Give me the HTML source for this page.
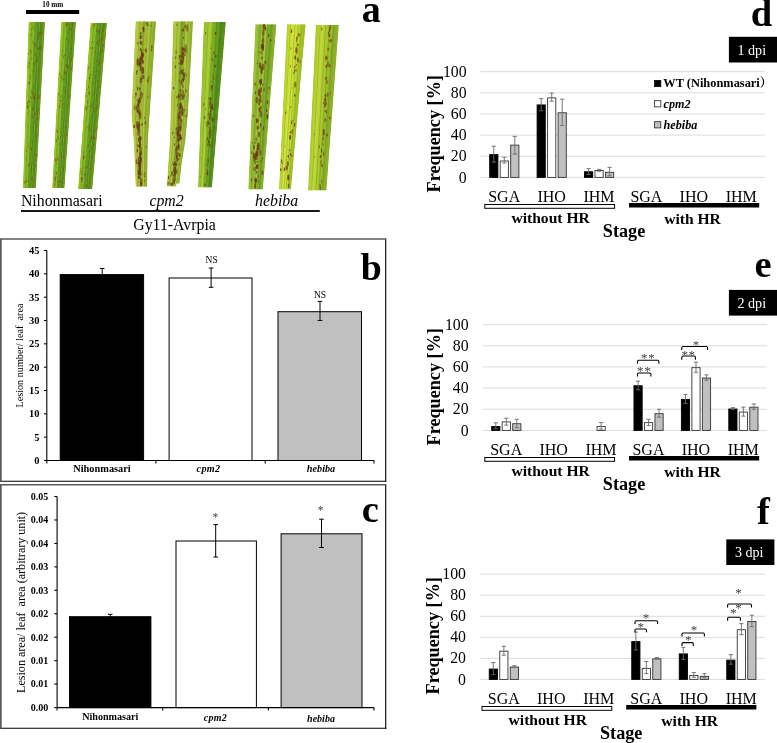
<!DOCTYPE html>
<html lang="en"><head><meta charset="utf-8"><title>Figure</title>
<style>html,body{margin:0;padding:0;background:#fff}svg{display:block}text{font-family:'Liberation Serif', 'Noto Serif CJK SC', serif}</style></head><body>
<svg width="777" height="743" viewBox="0 0 777 743">
<rect x="0" y="0" width="777" height="743" fill="#fff"/>
<rect x="26" y="10" width="53.2" height="4" fill="#000"/>
<text x="52.8" y="7" font-size="7.2" font-weight="bold" text-anchor="middle">10 mm</text>
<defs>
<clipPath id="lc0"><polygon points="28.6,22 22.8,188 35.9,188 45,22"/></clipPath>
<clipPath id="lc1"><polygon points="61.2,22 52.1,188 64.5,188 76,22"/></clipPath>
<clipPath id="lc2"><polygon points="90.6,23 78,189 92.3,189 107,23"/></clipPath>
<clipPath id="lc3"><polygon points="135.6,21.3 132.7,85 131.4,113 133.8,142 135.6,186.8 147.2,186.8 147.8,142 149.7,113 151.7,85 156,21.3"/></clipPath>
<clipPath id="lc4"><polygon points="173.3,21.3 170.6,113 169.8,142 168.2,164 166.8,186.6 176.2,186.6 176.2,183.5 179.5,183.5 181.6,164 185.2,142 188,113 193,21.3"/></clipPath>
<clipPath id="lc5"><polygon points="203.8,22 198,187.5 212,187.5 225.8,22"/></clipPath>
<clipPath id="lc6"><polygon points="255.4,24.2 248.2,189.5 262.9,189.5 270.2,100 276.4,24.2"/></clipPath>
<clipPath id="lc7"><polygon points="287,24.2 278.9,189.5 291,189.5 305.6,24.2"/></clipPath>
<clipPath id="lc8"><polygon points="315.8,25 308,190.5 326.4,190.5 338.8,25"/></clipPath>
</defs>
<g clip-path="url(#lc0)">
<polygon points="28.44,22 27.47,49.67 26.51,77.33 25.55,105 24.59,132.67 23.63,160.33 22.67,188 24.52,188 25.56,160.33 26.6,132.67 27.63,105 28.67,77.33 29.71,49.67 30.75,22" fill="#98c422"/>
<polygon points="30.26,22 29.24,49.67 28.21,77.33 27.19,105 26.17,132.67 25.15,160.33 24.12,188 25.97,188 27.07,160.33 28.17,132.67 29.27,105 30.37,77.33 31.47,49.67 32.57,22" fill="#8cbc20"/>
<polygon points="32.08,22 31,49.67 29.91,77.33 28.83,105 27.75,132.67 26.66,160.33 25.58,188 27.43,188 28.59,160.33 29.75,132.67 30.91,105 32.07,77.33 33.23,49.67 34.39,22" fill="#7eb220"/>
<polygon points="33.9,22 32.76,49.67 31.61,77.33 30.47,105 29.32,132.67 28.18,160.33 27.04,188 28.88,188 30.11,160.33 31.33,132.67 32.55,105 33.77,77.33 34.99,49.67 36.22,22" fill="#6fa820"/>
<polygon points="35.72,22 34.52,49.67 33.31,77.33 32.11,105 30.9,132.67 29.7,160.33 28.49,188 30.34,188 31.62,160.33 32.91,132.67 34.19,105 35.47,77.33 36.76,49.67 38.04,22" fill="#649e1e"/>
<polygon points="37.55,22 36.28,49.67 35.01,77.33 33.75,105 32.48,132.67 31.21,160.33 29.95,188 31.8,188 33.14,160.33 34.48,132.67 35.83,105 37.17,77.33 38.52,49.67 39.86,22" fill="#5a921a"/>
<polygon points="39.37,22 38.04,49.67 36.71,77.33 35.39,105 34.06,132.67 32.73,160.33 31.4,188 33.25,188 34.66,160.33 36.06,132.67 37.47,105 38.87,77.33 40.28,49.67 41.68,22" fill="#568c18"/>
<polygon points="41.19,22 39.8,49.67 38.41,77.33 37.02,105 35.64,132.67 34.25,160.33 32.86,188 34.71,188 36.17,160.33 37.64,132.67 39.11,105 40.57,77.33 42.04,49.67 43.51,22" fill="#5f901a"/>
<polygon points="43.01,22 41.56,49.67 40.11,77.33 38.66,105 37.21,132.67 35.76,160.33 34.31,188 36.16,188 37.69,160.33 39.22,132.67 40.75,105 42.27,77.33 43.8,49.67 45.33,22" fill="#6e9a1c"/>
<path d="M31.88 22L30.8 49.67L29.73 77.33L28.65 105L27.57 132.67L26.5 160.33L25.42 188" fill="none" stroke="#3c6c10" stroke-width="0.7" opacity="0.3"/>
<path d="M35.65 22L34.45 49.67L33.25 77.33L32.04 105L30.84 132.67L29.64 160.33L28.43 188" fill="none" stroke="#3c6c10" stroke-width="0.8" opacity="0.35"/>
<path d="M38.44 22L37.14 49.67L35.85 77.33L34.55 105L33.25 132.67L31.96 160.33L30.66 188" fill="none" stroke="#3c6c10" stroke-width="0.7" opacity="0.3"/>
<path d="M41.39 22L40 49.67L38.6 77.33L37.21 105L35.81 132.67L34.41 160.33L33.02 188" fill="none" stroke="#3c6c10" stroke-width="0.8" opacity="0.3"/>
<path d="M33.85 22L32.71 49.67L31.56 77.33L30.42 105L29.28 132.67L28.13 160.33L26.99 188" fill="none" stroke="#d4e860" stroke-width="0.7" opacity="0.3"/>
<path d="M39.75 22L38.41 49.67L37.07 77.33L35.73 105L34.39 132.67L33.05 160.33L31.71 188" fill="none" stroke="#d4e860" stroke-width="0.7" opacity="0.25"/>
<ellipse cx="29.76" cy="76.46" rx="0.54" ry="0.9" fill="#80501a" opacity="0.71"/>
<ellipse cx="28.28" cy="83.24" rx="0.48" ry="0.77" fill="#80501a" opacity="0.67"/>
<ellipse cx="30.52" cy="35.32" rx="0.45" ry="1.37" fill="#80501a" opacity="0.55"/>
<ellipse cx="36.8" cy="60.16" rx="0.66" ry="1.72" fill="#80501a" opacity="0.66"/>
<ellipse cx="24.46" cy="182.15" rx="0.62" ry="1.29" fill="#80501a" opacity="0.56"/>
<ellipse cx="33.22" cy="43.08" rx="0.61" ry="1.14" fill="#80501a" opacity="0.73"/>
<ellipse cx="30.5" cy="127.5" rx="0.5" ry="0.82" fill="#80501a" opacity="0.52"/>
<ellipse cx="37.65" cy="57.37" rx="0.45" ry="0.95" fill="#80501a" opacity="0.73"/>
<ellipse cx="30.85" cy="97.42" rx="0.6" ry="1.69" fill="#80501a" opacity="0.6"/>
<ellipse cx="32.85" cy="117.06" rx="0.63" ry="1.82" fill="#80501a" opacity="0.62"/>
<ellipse cx="25.25" cy="182.79" rx="0.44" ry="1.3" fill="#80501a" opacity="0.56"/>
<ellipse cx="27.3" cy="103.21" rx="0.55" ry="1.61" fill="#80501a" opacity="0.73"/>
<ellipse cx="28.18" cy="165.83" rx="0.56" ry="1.47" fill="#80501a" opacity="0.73"/>
<ellipse cx="37.75" cy="97.91" rx="0.66" ry="1.59" fill="#80501a" opacity="0.77"/>
<ellipse cx="39.07" cy="33.83" rx="0.54" ry="1.81" fill="#80501a" opacity="0.83"/>
<ellipse cx="33.12" cy="70.1" rx="0.55" ry="0.86" fill="#80501a" opacity="0.68"/>
<ellipse cx="30.28" cy="51.22" rx="0.3" ry="0.88" fill="#80501a" opacity="0.55"/>
<ellipse cx="33.45" cy="64.11" rx="0.63" ry="1.06" fill="#80501a" opacity="0.68"/>
<ellipse cx="37.53" cy="113.01" rx="0.61" ry="1.91" fill="#80501a" opacity="0.61"/>
<ellipse cx="31.87" cy="91.28" rx="0.64" ry="2.1" fill="#80501a" opacity="0.56"/>
<ellipse cx="31.79" cy="52.55" rx="0.37" ry="0.9" fill="#80501a" opacity="0.74"/>
<ellipse cx="28.18" cy="66.56" rx="0.44" ry="0.99" fill="#80501a" opacity="0.73"/>
<ellipse cx="31.96" cy="178.4" rx="0.48" ry="1.3" fill="#80501a" opacity="0.77"/>
<ellipse cx="41.88" cy="32.75" rx="0.59" ry="1.87" fill="#80501a" opacity="0.82"/>
<ellipse cx="32.55" cy="87.57" rx="0.32" ry="0.85" fill="#80501a" opacity="0.52"/>
<ellipse cx="32.18" cy="34.91" rx="0.34" ry="0.74" fill="#80501a" opacity="0.52"/>
<ellipse cx="31.8" cy="24.04" rx="0.31" ry="0.7" fill="#80501a" opacity="0.51"/>
<ellipse cx="31.68" cy="165.64" rx="0.33" ry="0.67" fill="#80501a" opacity="0.64"/>
<ellipse cx="29.14" cy="82.99" rx="0.62" ry="2.09" fill="#80501a" opacity="0.69"/>
<ellipse cx="27.92" cy="102.38" rx="0.31" ry="0.68" fill="#80501a" opacity="0.61"/>
<ellipse cx="26.7" cy="158.27" rx="0.28" ry="0.93" fill="#80501a" opacity="0.71"/>
<ellipse cx="36.23" cy="47.75" rx="0.28" ry="0.71" fill="#80501a" opacity="0.89"/>
<ellipse cx="32.72" cy="163.86" rx="0.38" ry="0.84" fill="#80501a" opacity="0.57"/>
<ellipse cx="31.49" cy="149.05" rx="0.59" ry="1.27" fill="#80501a" opacity="0.59"/>
<ellipse cx="36.54" cy="155.46" rx="0.62" ry="1.88" fill="#80501a" opacity="0.83"/>
<ellipse cx="28.05" cy="143.86" rx="0.48" ry="1.06" fill="#80501a" opacity="0.51"/>
<ellipse cx="33.42" cy="28.53" rx="0.38" ry="1.07" fill="#80501a" opacity="0.88"/>
<ellipse cx="39.07" cy="96.45" rx="0.68" ry="2.24" fill="#80501a" opacity="0.65"/>
<ellipse cx="31.43" cy="59.71" rx="0.35" ry="0.68" fill="#80501a" opacity="0.75"/>
<ellipse cx="34.11" cy="169.85" rx="0.47" ry="1.29" fill="#80501a" opacity="0.82"/>
<ellipse cx="38.32" cy="37.73" rx="0.65" ry="1.93" fill="#80501a" opacity="0.8"/>
<ellipse cx="29.14" cy="101.44" rx="0.6" ry="1.28" fill="#80501a" opacity="0.82"/>
<ellipse cx="28.46" cy="181.41" rx="0.44" ry="1.44" fill="#80501a" opacity="0.79"/>
<ellipse cx="30.4" cy="51.54" rx="0.33" ry="1.07" fill="#80501a" opacity="0.82"/>
<ellipse cx="40.11" cy="47.68" rx="0.67" ry="1.86" fill="#80501a" opacity="0.64"/>
<ellipse cx="28.09" cy="112.88" rx="0.28" ry="0.93" fill="#80501a" opacity="0.76"/>
<ellipse cx="38.35" cy="109.31" rx="0.45" ry="1.42" fill="#80501a" opacity="0.83"/>
<ellipse cx="31.83" cy="58.19" rx="0.39" ry="0.78" fill="#80501a" opacity="0.73"/>
<ellipse cx="33.74" cy="66.02" rx="0.33" ry="1.05" fill="#80501a" opacity="0.64"/>
<ellipse cx="34.45" cy="98.22" rx="0.64" ry="1.49" fill="#80501a" opacity="0.87"/>
<ellipse cx="33.47" cy="105.27" rx="0.49" ry="0.77" fill="#80501a" opacity="0.68"/>
<ellipse cx="28.65" cy="53.66" rx="0.6" ry="1.11" fill="#80501a" opacity="0.69"/>
<ellipse cx="32.12" cy="141.48" rx="0.41" ry="1.01" fill="#80501a" opacity="0.72"/>
<ellipse cx="26.32" cy="151.05" rx="0.5" ry="1" fill="#80501a" opacity="0.61"/>
<ellipse cx="31.19" cy="149.11" rx="0.5" ry="1.48" fill="#80501a" opacity="0.86"/>
<ellipse cx="34.93" cy="95.81" rx="0.48" ry="1.19" fill="#80501a" opacity="0.78"/>
<ellipse cx="33.85" cy="97.28" rx="0.47" ry="1.54" fill="#80501a" opacity="0.78"/>
<ellipse cx="35.49" cy="166" rx="0.38" ry="0.98" fill="#80501a" opacity="0.88"/>
<ellipse cx="26.34" cy="160.08" rx="0.32" ry="0.76" fill="#80501a" opacity="0.53"/>
<ellipse cx="29.24" cy="62.98" rx="0.55" ry="1.63" fill="#80501a" opacity="0.86"/>
<ellipse cx="38.54" cy="49.02" rx="0.54" ry="0.98" fill="#80501a" opacity="0.85"/>
<ellipse cx="26.48" cy="180.74" rx="0.66" ry="1.51" fill="#80501a" opacity="0.69"/>
<ellipse cx="33.28" cy="184.36" rx="0.34" ry="0.79" fill="#80501a" opacity="0.71"/>
<ellipse cx="30.25" cy="78.94" rx="0.4" ry="1.16" fill="#80501a" opacity="0.51"/>
<ellipse cx="31.94" cy="113.76" rx="0.28" ry="0.6" fill="#80501a" opacity="0.75"/>
<ellipse cx="27.47" cy="106.99" rx="0.68" ry="2.03" fill="#80501a" opacity="0.89"/>
<ellipse cx="32.72" cy="40.97" rx="0.29" ry="0.86" fill="#80501a" opacity="0.61"/>
<ellipse cx="34.7" cy="44.99" rx="0.65" ry="1.97" fill="#80501a" opacity="0.6"/>
<ellipse cx="41.35" cy="48.2" rx="0.51" ry="1.43" fill="#80501a" opacity="0.54"/>
<ellipse cx="38.91" cy="33.32" rx="0.45" ry="0.75" fill="#80501a" opacity="0.88"/>
<ellipse cx="35.81" cy="126.78" rx="0.31" ry="0.96" fill="#80501a" opacity="0.53"/>
<ellipse cx="29.9" cy="163.77" rx="0.41" ry="1.05" fill="#80501a" opacity="0.87"/>
<ellipse cx="29.82" cy="67.39" rx="0.49" ry="0.97" fill="#80501a" opacity="0.54"/>
<ellipse cx="29.41" cy="50.15" rx="0.36" ry="0.75" fill="#80501a" opacity="0.62"/>
<ellipse cx="28.67" cy="147.04" rx="0.48" ry="0.89" fill="#80501a" opacity="0.64"/>
<ellipse cx="33.08" cy="26.94" rx="0.28" ry="0.81" fill="#80501a" opacity="0.72"/>
<ellipse cx="34.99" cy="54.69" rx="0.66" ry="1.14" fill="#80501a" opacity="0.83"/>
<ellipse cx="33.5" cy="94.01" rx="0.61" ry="1.39" fill="#80501a" opacity="0.7"/>
<ellipse cx="37.58" cy="135.41" rx="0.41" ry="1.27" fill="#80501a" opacity="0.78"/>
<ellipse cx="30.91" cy="127.03" rx="0.42" ry="0.68" fill="#80501a" opacity="0.55"/>
<ellipse cx="39.54" cy="35.46" rx="0.38" ry="0.69" fill="#80501a" opacity="0.53"/>
<ellipse cx="34.94" cy="160.29" rx="0.55" ry="1.13" fill="#80501a" opacity="0.6"/>
<ellipse cx="34.04" cy="71.48" rx="0.34" ry="0.8" fill="#80501a" opacity="0.61"/>
<ellipse cx="35.11" cy="179.81" rx="0.5" ry="0.99" fill="#80501a" opacity="0.89"/>
<ellipse cx="32.56" cy="74.15" rx="0.27" ry="0.61" fill="#80501a" opacity="0.69"/>
<ellipse cx="29.26" cy="105.45" rx="0.48" ry="0.74" fill="#80501a" opacity="0.61"/>
<ellipse cx="34.67" cy="38.54" rx="0.29" ry="0.46" fill="#80501a" opacity="0.62"/>
<ellipse cx="36.17" cy="61.72" rx="0.49" ry="1.43" fill="#80501a" opacity="0.76"/>
<ellipse cx="36.09" cy="139.99" rx="0.43" ry="0.93" fill="#80501a" opacity="0.89"/>
<ellipse cx="38.68" cy="48.21" rx="0.54" ry="0.87" fill="#80501a" opacity="0.83"/>
<ellipse cx="31.7" cy="168.49" rx="0.57" ry="1.74" fill="#80501a" opacity="0.56"/>
<ellipse cx="32.96" cy="108.85" rx="0.61" ry="1.86" fill="#80501a" opacity="0.83"/>
<ellipse cx="37.36" cy="118.62" rx="0.55" ry="1.56" fill="#80501a" opacity="0.59"/>
<ellipse cx="31.35" cy="29.05" rx="0.42" ry="0.73" fill="#80501a" opacity="0.83"/>
<ellipse cx="34.25" cy="114.48" rx="0.53" ry="1.48" fill="#80501a" opacity="0.7"/>
</g>
<g clip-path="url(#lc1)">
<polygon points="61.05,22 59.54,49.67 58.03,77.33 56.51,105 55,132.67 53.49,160.33 51.98,188 53.73,188 55.29,160.33 56.86,132.67 58.43,105 60,77.33 61.57,49.67 63.14,22" fill="#98c422"/>
<polygon points="62.7,22 61.14,49.67 59.58,77.33 58.03,105 56.47,132.67 54.91,160.33 53.35,188 55.1,188 56.72,160.33 58.33,132.67 59.94,105 61.56,77.33 63.17,49.67 64.78,22" fill="#8cbc20"/>
<polygon points="64.34,22 62.74,49.67 61.14,77.33 59.54,105 57.93,132.67 56.33,160.33 54.73,188 56.48,188 58.14,160.33 59.8,132.67 61.46,105 63.11,77.33 64.77,49.67 66.43,22" fill="#7eb220"/>
<polygon points="65.99,22 64.34,49.67 62.69,77.33 61.05,105 59.4,132.67 57.76,160.33 56.11,188 57.86,188 59.56,160.33 61.26,132.67 62.97,105 64.67,77.33 66.37,49.67 68.07,22" fill="#6fa820"/>
<polygon points="67.63,22 65.94,49.67 64.25,77.33 62.56,105 60.87,132.67 59.18,160.33 57.49,188 59.24,188 60.98,160.33 62.73,132.67 64.48,105 66.22,77.33 67.97,49.67 69.72,22" fill="#649e1e"/>
<polygon points="69.27,22 67.54,49.67 65.8,77.33 64.07,105 62.33,132.67 60.6,160.33 58.86,188 60.61,188 62.41,160.33 64.2,132.67 65.99,105 67.78,77.33 69.57,49.67 71.36,22" fill="#5a921a"/>
<polygon points="70.92,22 69.14,49.67 67.36,77.33 65.58,105 63.8,132.67 62.02,160.33 60.24,188 61.99,188 63.83,160.33 65.66,132.67 67.5,105 69.34,77.33 71.17,49.67 73.01,22" fill="#568c18"/>
<polygon points="72.56,22 70.74,49.67 68.92,77.33 67.09,105 65.27,132.67 63.44,160.33 61.62,188 63.37,188 65.25,160.33 67.13,132.67 69.01,105 70.89,77.33 72.77,49.67 74.65,22" fill="#5f901a"/>
<polygon points="74.21,22 72.34,49.67 70.47,77.33 68.6,105 66.73,132.67 64.87,160.33 63,188 64.75,188 66.67,160.33 68.6,132.67 70.52,105 72.45,77.33 74.37,49.67 76.3,22" fill="#6e9a1c"/>
<path d="M64.16 22L62.56 49.67L60.97 77.33L59.37 105L57.77 132.67L56.18 160.33L54.58 188" fill="none" stroke="#3c6c10" stroke-width="0.7" opacity="0.3"/>
<path d="M67.56 22L65.88 49.67L64.19 77.33L62.5 105L60.81 132.67L59.12 160.33L57.43 188" fill="none" stroke="#3c6c10" stroke-width="0.8" opacity="0.35"/>
<path d="M70.08 22L68.32 49.67L66.57 77.33L64.81 105L63.05 132.67L61.3 160.33L59.54 188" fill="none" stroke="#3c6c10" stroke-width="0.7" opacity="0.3"/>
<path d="M72.74 22L70.92 49.67L69.09 77.33L67.26 105L65.43 132.67L63.6 160.33L61.77 188" fill="none" stroke="#3c6c10" stroke-width="0.8" opacity="0.3"/>
<path d="M65.94 22L64.29 49.67L62.65 77.33L61 105L59.36 132.67L57.71 160.33L56.07 188" fill="none" stroke="#d4e860" stroke-width="0.7" opacity="0.3"/>
<path d="M71.26 22L69.48 49.67L67.69 77.33L65.9 105L64.11 132.67L62.32 160.33L60.53 188" fill="none" stroke="#d4e860" stroke-width="0.7" opacity="0.25"/>
<ellipse cx="72.22" cy="24.54" rx="0.58" ry="1.43" fill="#80501a" opacity="0.71"/>
<ellipse cx="56.91" cy="130.81" rx="0.57" ry="1.15" fill="#80501a" opacity="0.53"/>
<ellipse cx="68.6" cy="67.02" rx="0.36" ry="1.04" fill="#80501a" opacity="0.89"/>
<ellipse cx="62.14" cy="104.02" rx="0.47" ry="1.31" fill="#80501a" opacity="0.81"/>
<ellipse cx="63.91" cy="123.95" rx="0.3" ry="0.55" fill="#80501a" opacity="0.6"/>
<ellipse cx="58.81" cy="144.4" rx="0.51" ry="0.79" fill="#80501a" opacity="0.52"/>
<ellipse cx="67.87" cy="67.54" rx="0.56" ry="1.55" fill="#80501a" opacity="0.62"/>
<ellipse cx="62.87" cy="107.68" rx="0.46" ry="0.82" fill="#80501a" opacity="0.86"/>
<ellipse cx="72.35" cy="56.28" rx="0.66" ry="1.03" fill="#80501a" opacity="0.68"/>
<ellipse cx="65.41" cy="156.82" rx="0.46" ry="0.93" fill="#80501a" opacity="0.58"/>
<ellipse cx="55.85" cy="177.19" rx="0.51" ry="0.92" fill="#80501a" opacity="0.71"/>
<ellipse cx="54.94" cy="178.34" rx="0.61" ry="1.51" fill="#80501a" opacity="0.85"/>
<ellipse cx="58.37" cy="137.94" rx="0.64" ry="1.56" fill="#80501a" opacity="0.51"/>
<ellipse cx="68.33" cy="24.58" rx="0.46" ry="0.96" fill="#80501a" opacity="0.56"/>
<ellipse cx="62.81" cy="79.72" rx="0.62" ry="0.95" fill="#80501a" opacity="0.8"/>
<ellipse cx="55.86" cy="159.94" rx="0.65" ry="1.86" fill="#80501a" opacity="0.86"/>
<ellipse cx="64.01" cy="70.95" rx="0.43" ry="1.47" fill="#80501a" opacity="0.74"/>
<ellipse cx="63.99" cy="82.43" rx="0.39" ry="0.63" fill="#80501a" opacity="0.54"/>
<ellipse cx="57.72" cy="159.22" rx="0.66" ry="1.31" fill="#80501a" opacity="0.61"/>
<ellipse cx="59.72" cy="106.78" rx="0.43" ry="1.41" fill="#80501a" opacity="0.85"/>
<ellipse cx="61.76" cy="155.54" rx="0.65" ry="2.12" fill="#80501a" opacity="0.72"/>
<ellipse cx="56.17" cy="140.57" rx="0.57" ry="1.36" fill="#80501a" opacity="0.8"/>
<ellipse cx="59.56" cy="128.41" rx="0.29" ry="0.95" fill="#80501a" opacity="0.55"/>
<ellipse cx="61.89" cy="100.49" rx="0.39" ry="1.15" fill="#80501a" opacity="0.89"/>
<ellipse cx="67.76" cy="66.15" rx="0.4" ry="1.02" fill="#80501a" opacity="0.66"/>
<ellipse cx="62.61" cy="51.11" rx="0.36" ry="1.15" fill="#80501a" opacity="0.7"/>
<ellipse cx="71.24" cy="59.64" rx="0.68" ry="1.61" fill="#80501a" opacity="0.56"/>
<ellipse cx="61.5" cy="55.17" rx="0.41" ry="0.7" fill="#80501a" opacity="0.6"/>
<ellipse cx="66.73" cy="65.85" rx="0.64" ry="1.86" fill="#80501a" opacity="0.67"/>
<ellipse cx="64.6" cy="91.05" rx="0.43" ry="0.92" fill="#80501a" opacity="0.52"/>
<ellipse cx="71.37" cy="68.96" rx="0.32" ry="0.8" fill="#80501a" opacity="0.75"/>
<ellipse cx="56.69" cy="163.78" rx="0.38" ry="0.77" fill="#80501a" opacity="0.66"/>
<ellipse cx="69.35" cy="96.23" rx="0.62" ry="1.95" fill="#80501a" opacity="0.51"/>
<ellipse cx="70.8" cy="29.22" rx="0.64" ry="1.54" fill="#80501a" opacity="0.73"/>
<ellipse cx="67.1" cy="24.03" rx="0.65" ry="2" fill="#80501a" opacity="0.84"/>
<ellipse cx="56" cy="181.5" rx="0.32" ry="0.58" fill="#80501a" opacity="0.71"/>
<ellipse cx="66.62" cy="134.5" rx="0.57" ry="1.55" fill="#80501a" opacity="0.81"/>
<ellipse cx="64.49" cy="98.09" rx="0.29" ry="0.86" fill="#80501a" opacity="0.59"/>
<ellipse cx="60.81" cy="173.03" rx="0.4" ry="0.71" fill="#80501a" opacity="0.6"/>
<ellipse cx="64.35" cy="127.08" rx="0.32" ry="0.53" fill="#80501a" opacity="0.71"/>
<ellipse cx="61.33" cy="118.43" rx="0.36" ry="0.97" fill="#80501a" opacity="0.5"/>
<ellipse cx="64.97" cy="72.85" rx="0.67" ry="1.82" fill="#80501a" opacity="0.85"/>
<ellipse cx="60.58" cy="101" rx="0.37" ry="1.24" fill="#80501a" opacity="0.78"/>
<ellipse cx="59.61" cy="73.8" rx="0.48" ry="1.33" fill="#80501a" opacity="0.67"/>
<ellipse cx="67.93" cy="65.68" rx="0.65" ry="1.28" fill="#80501a" opacity="0.51"/>
<ellipse cx="64.12" cy="78.76" rx="0.55" ry="1.05" fill="#80501a" opacity="0.82"/>
<ellipse cx="61.1" cy="143.74" rx="0.36" ry="1.19" fill="#80501a" opacity="0.62"/>
<ellipse cx="57.26" cy="156.84" rx="0.36" ry="1.07" fill="#80501a" opacity="0.62"/>
<ellipse cx="58.86" cy="178.21" rx="0.35" ry="0.68" fill="#80501a" opacity="0.67"/>
<ellipse cx="66.89" cy="131.78" rx="0.33" ry="0.75" fill="#80501a" opacity="0.59"/>
<ellipse cx="54.84" cy="181.81" rx="0.29" ry="0.49" fill="#80501a" opacity="0.66"/>
<ellipse cx="63.63" cy="169.5" rx="0.57" ry="1.94" fill="#80501a" opacity="0.87"/>
<ellipse cx="61.38" cy="77.34" rx="0.66" ry="1.91" fill="#80501a" opacity="0.51"/>
<ellipse cx="60.42" cy="131.64" rx="0.43" ry="0.92" fill="#80501a" opacity="0.57"/>
<ellipse cx="65.65" cy="24.47" rx="0.42" ry="1.38" fill="#80501a" opacity="0.55"/>
<ellipse cx="55.63" cy="180.21" rx="0.42" ry="1.28" fill="#80501a" opacity="0.83"/>
<ellipse cx="58.8" cy="94.06" rx="0.47" ry="1.04" fill="#80501a" opacity="0.87"/>
<ellipse cx="64.86" cy="55.27" rx="0.64" ry="1.02" fill="#80501a" opacity="0.66"/>
<ellipse cx="63.27" cy="155.52" rx="0.29" ry="0.46" fill="#80501a" opacity="0.53"/>
<ellipse cx="56.59" cy="173.05" rx="0.58" ry="1.85" fill="#80501a" opacity="0.64"/>
<ellipse cx="71.3" cy="68.11" rx="0.53" ry="1.06" fill="#80501a" opacity="0.79"/>
<ellipse cx="62.59" cy="75.27" rx="0.27" ry="0.81" fill="#80501a" opacity="0.87"/>
<ellipse cx="67.17" cy="126.7" rx="0.28" ry="0.56" fill="#80501a" opacity="0.69"/>
<ellipse cx="63.75" cy="179" rx="0.43" ry="0.86" fill="#80501a" opacity="0.67"/>
<ellipse cx="68.53" cy="103.94" rx="0.35" ry="1.05" fill="#80501a" opacity="0.8"/>
<ellipse cx="63.22" cy="157.29" rx="0.52" ry="1.12" fill="#80501a" opacity="0.63"/>
<ellipse cx="68.22" cy="82.62" rx="0.31" ry="0.58" fill="#80501a" opacity="0.8"/>
<ellipse cx="60.68" cy="64.06" rx="0.29" ry="0.73" fill="#80501a" opacity="0.63"/>
<ellipse cx="62.74" cy="182.8" rx="0.68" ry="1.37" fill="#80501a" opacity="0.53"/>
<ellipse cx="67.49" cy="39.62" rx="0.56" ry="1.33" fill="#80501a" opacity="0.59"/>
<ellipse cx="65.71" cy="91.53" rx="0.55" ry="1.6" fill="#80501a" opacity="0.84"/>
<ellipse cx="57.49" cy="131.64" rx="0.62" ry="1.28" fill="#80501a" opacity="0.73"/>
<ellipse cx="67.57" cy="84.42" rx="0.35" ry="0.71" fill="#80501a" opacity="0.6"/>
<ellipse cx="71.7" cy="48.84" rx="0.51" ry="1.09" fill="#80501a" opacity="0.66"/>
<ellipse cx="58.58" cy="184.78" rx="0.37" ry="1.11" fill="#80501a" opacity="0.76"/>
<ellipse cx="54.26" cy="184.53" rx="0.47" ry="1.43" fill="#80501a" opacity="0.84"/>
<ellipse cx="54.29" cy="172.13" rx="0.39" ry="0.69" fill="#80501a" opacity="0.58"/>
<ellipse cx="59.59" cy="181.62" rx="0.65" ry="1.46" fill="#80501a" opacity="0.85"/>
<ellipse cx="61.13" cy="96.76" rx="0.59" ry="1.94" fill="#80501a" opacity="0.54"/>
<ellipse cx="63.86" cy="120.58" rx="0.36" ry="0.8" fill="#80501a" opacity="0.56"/>
<ellipse cx="63.41" cy="57.04" rx="0.52" ry="1.42" fill="#80501a" opacity="0.58"/>
<ellipse cx="66.17" cy="25.84" rx="0.55" ry="1.04" fill="#80501a" opacity="0.62"/>
<ellipse cx="70.06" cy="56.95" rx="0.5" ry="0.82" fill="#80501a" opacity="0.54"/>
<ellipse cx="65.1" cy="88.04" rx="0.53" ry="0.91" fill="#80501a" opacity="0.57"/>
<ellipse cx="60.47" cy="136.66" rx="0.39" ry="0.82" fill="#80501a" opacity="0.88"/>
</g>
<g clip-path="url(#lc2)">
<polygon points="90.44,23 88.34,50.67 86.24,78.33 84.15,106 82.05,133.67 79.95,161.33 77.86,189 79.87,189 82.02,161.33 84.17,133.67 86.31,106 88.46,78.33 90.6,50.67 92.75,23" fill="#98c422"/>
<polygon points="92.26,23 90.12,50.67 87.99,78.33 85.85,106 83.72,133.67 81.58,161.33 79.45,189 81.46,189 83.65,161.33 85.83,133.67 88.02,106 90.2,78.33 92.39,50.67 94.57,23" fill="#8cbc20"/>
<polygon points="94.08,23 91.91,50.67 89.73,78.33 87.56,106 85.38,133.67 83.21,161.33 81.03,189 83.05,189 85.28,161.33 87.5,133.67 89.72,106 91.95,78.33 94.17,50.67 96.39,23" fill="#7eb220"/>
<polygon points="95.9,23 93.69,50.67 91.48,78.33 89.26,106 87.05,133.67 84.84,161.33 82.62,189 84.64,189 86.9,161.33 89.17,133.67 91.43,106 93.69,78.33 95.95,50.67 98.22,23" fill="#6fa820"/>
<polygon points="97.72,23 95.47,50.67 93.22,78.33 90.97,106 88.72,133.67 86.46,161.33 84.21,189 86.23,189 88.53,161.33 90.83,133.67 93.13,106 95.44,78.33 97.74,50.67 100.04,23" fill="#649e1e"/>
<polygon points="99.55,23 97.26,50.67 94.97,78.33 92.67,106 90.38,133.67 88.09,161.33 85.8,189 87.82,189 90.16,161.33 92.5,133.67 94.84,106 97.18,78.33 99.52,50.67 101.86,23" fill="#5a921a"/>
<polygon points="101.37,23 99.04,50.67 96.71,78.33 94.38,106 92.05,133.67 89.72,161.33 87.39,189 89.41,189 91.79,161.33 94.17,133.67 96.55,106 98.93,78.33 101.3,50.67 103.68,23" fill="#568c18"/>
<polygon points="103.19,23 100.82,50.67 98.45,78.33 96.09,106 93.72,133.67 91.35,161.33 88.98,189 91,189 93.42,161.33 95.83,133.67 98.25,106 100.67,78.33 103.09,50.67 105.51,23" fill="#5f901a"/>
<polygon points="105.01,23 102.61,50.67 100.2,78.33 97.79,106 95.38,133.67 92.98,161.33 90.57,189 92.59,189 95.04,161.33 97.5,133.67 99.96,106 102.41,78.33 104.87,50.67 107.33,23" fill="#6e9a1c"/>
<path d="M93.88 23L91.71 50.67L89.54 78.33L87.37 106L85.2 133.67L83.03 161.33L80.86 189" fill="none" stroke="#3c6c10" stroke-width="0.7" opacity="0.3"/>
<path d="M97.65 23L95.4 50.67L93.15 78.33L90.9 106L88.65 133.67L86.4 161.33L84.15 189" fill="none" stroke="#3c6c10" stroke-width="0.8" opacity="0.35"/>
<path d="M100.44 23L98.13 50.67L95.82 78.33L93.51 106L91.2 133.67L88.89 161.33L86.58 189" fill="none" stroke="#3c6c10" stroke-width="0.7" opacity="0.3"/>
<path d="M103.39 23L101.02 50.67L98.65 78.33L96.27 106L93.9 133.67L91.53 161.33L89.15 189" fill="none" stroke="#3c6c10" stroke-width="0.8" opacity="0.3"/>
<path d="M95.85 23L93.64 50.67L91.42 78.33L89.21 106L87 133.67L84.79 161.33L82.58 189" fill="none" stroke="#d4e860" stroke-width="0.7" opacity="0.3"/>
<path d="M101.75 23L99.41 50.67L97.08 78.33L94.74 106L92.4 133.67L90.06 161.33L87.72 189" fill="none" stroke="#d4e860" stroke-width="0.7" opacity="0.25"/>
<ellipse cx="95.37" cy="75.6" rx="0.44" ry="1.01" fill="#80501a" opacity="0.85"/>
<ellipse cx="83.68" cy="186.45" rx="0.37" ry="1.07" fill="#80501a" opacity="0.58"/>
<ellipse cx="104.21" cy="25.95" rx="0.47" ry="1.43" fill="#80501a" opacity="0.66"/>
<ellipse cx="86.39" cy="168.02" rx="0.36" ry="0.56" fill="#80501a" opacity="0.72"/>
<ellipse cx="95.41" cy="128.79" rx="0.32" ry="0.87" fill="#80501a" opacity="0.65"/>
<ellipse cx="87.24" cy="106.72" rx="0.41" ry="1.02" fill="#80501a" opacity="0.87"/>
<ellipse cx="97.05" cy="42.62" rx="0.63" ry="2.1" fill="#80501a" opacity="0.58"/>
<ellipse cx="103.09" cy="45.52" rx="0.7" ry="1.71" fill="#80501a" opacity="0.52"/>
<ellipse cx="84.9" cy="175.04" rx="0.67" ry="1.81" fill="#80501a" opacity="0.83"/>
<ellipse cx="100.44" cy="50.96" rx="0.38" ry="0.87" fill="#80501a" opacity="0.84"/>
<ellipse cx="83.59" cy="159.33" rx="0.38" ry="0.86" fill="#80501a" opacity="0.71"/>
<ellipse cx="88.47" cy="87.14" rx="0.39" ry="1.13" fill="#80501a" opacity="0.86"/>
<ellipse cx="98.96" cy="31.66" rx="0.61" ry="0.98" fill="#80501a" opacity="0.84"/>
<ellipse cx="98.45" cy="44.07" rx="0.52" ry="1.41" fill="#80501a" opacity="0.62"/>
<ellipse cx="94.14" cy="93.05" rx="0.47" ry="1.29" fill="#80501a" opacity="0.68"/>
<ellipse cx="86.45" cy="96.01" rx="0.55" ry="1.35" fill="#80501a" opacity="0.59"/>
<ellipse cx="92.03" cy="148.7" rx="0.48" ry="0.9" fill="#80501a" opacity="0.69"/>
<ellipse cx="92.05" cy="42.35" rx="0.47" ry="0.8" fill="#80501a" opacity="0.68"/>
<ellipse cx="85.79" cy="107.65" rx="0.56" ry="0.94" fill="#80501a" opacity="0.79"/>
<ellipse cx="88.42" cy="150.98" rx="0.31" ry="0.76" fill="#80501a" opacity="0.65"/>
<ellipse cx="81.46" cy="179.04" rx="0.65" ry="2.21" fill="#80501a" opacity="0.79"/>
<ellipse cx="83.91" cy="157.03" rx="0.71" ry="1.73" fill="#80501a" opacity="0.88"/>
<ellipse cx="82.26" cy="173.4" rx="0.62" ry="2.03" fill="#80501a" opacity="0.53"/>
<ellipse cx="97.41" cy="81.85" rx="0.35" ry="1.13" fill="#80501a" opacity="0.61"/>
<ellipse cx="83.26" cy="157.13" rx="0.5" ry="1.62" fill="#80501a" opacity="0.58"/>
<ellipse cx="95.22" cy="67.58" rx="0.42" ry="0.68" fill="#80501a" opacity="0.57"/>
<ellipse cx="102.51" cy="51.12" rx="0.58" ry="1.84" fill="#80501a" opacity="0.57"/>
<ellipse cx="83.29" cy="152.15" rx="0.51" ry="1.39" fill="#80501a" opacity="0.64"/>
<ellipse cx="87.7" cy="166.42" rx="0.53" ry="1.69" fill="#80501a" opacity="0.54"/>
<ellipse cx="87.01" cy="185.86" rx="0.46" ry="1.37" fill="#80501a" opacity="0.61"/>
<ellipse cx="86.4" cy="185.46" rx="0.44" ry="1.3" fill="#80501a" opacity="0.68"/>
<ellipse cx="99.64" cy="53.63" rx="0.31" ry="0.94" fill="#80501a" opacity="0.6"/>
<ellipse cx="96.39" cy="128.56" rx="0.54" ry="1.49" fill="#80501a" opacity="0.63"/>
<ellipse cx="92.05" cy="25.29" rx="0.35" ry="0.94" fill="#80501a" opacity="0.67"/>
<ellipse cx="97.02" cy="108.05" rx="0.34" ry="0.67" fill="#80501a" opacity="0.76"/>
<ellipse cx="91.35" cy="28.61" rx="0.44" ry="0.76" fill="#80501a" opacity="0.64"/>
<ellipse cx="96.79" cy="61.33" rx="0.54" ry="1.03" fill="#80501a" opacity="0.75"/>
<ellipse cx="87.47" cy="101.93" rx="0.69" ry="1.37" fill="#80501a" opacity="0.56"/>
<ellipse cx="99.28" cy="40.52" rx="0.66" ry="1.97" fill="#80501a" opacity="0.66"/>
<ellipse cx="88.46" cy="67.81" rx="0.56" ry="1.45" fill="#80501a" opacity="0.64"/>
<ellipse cx="89.31" cy="129.59" rx="0.69" ry="1.99" fill="#80501a" opacity="0.6"/>
<ellipse cx="80.9" cy="171.37" rx="0.51" ry="1.18" fill="#80501a" opacity="0.6"/>
<ellipse cx="101.76" cy="34.46" rx="0.29" ry="0.74" fill="#80501a" opacity="0.88"/>
<ellipse cx="92.58" cy="48.05" rx="0.55" ry="1.35" fill="#80501a" opacity="0.76"/>
<ellipse cx="83.69" cy="156.77" rx="0.42" ry="0.88" fill="#80501a" opacity="0.52"/>
<ellipse cx="90.33" cy="169.08" rx="0.59" ry="0.92" fill="#80501a" opacity="0.84"/>
<ellipse cx="88.27" cy="145.72" rx="0.6" ry="1.43" fill="#80501a" opacity="0.59"/>
<ellipse cx="93.51" cy="42.06" rx="0.3" ry="0.65" fill="#80501a" opacity="0.8"/>
<ellipse cx="93.82" cy="137.61" rx="0.59" ry="1.2" fill="#80501a" opacity="0.72"/>
<ellipse cx="96.67" cy="95.64" rx="0.51" ry="1.04" fill="#80501a" opacity="0.76"/>
<ellipse cx="82.27" cy="181.35" rx="0.66" ry="1.04" fill="#80501a" opacity="0.6"/>
<ellipse cx="98.82" cy="63.25" rx="0.69" ry="2.02" fill="#80501a" opacity="0.63"/>
<ellipse cx="84.76" cy="167.59" rx="0.39" ry="1.25" fill="#80501a" opacity="0.75"/>
<ellipse cx="91.53" cy="137.24" rx="0.71" ry="1.7" fill="#80501a" opacity="0.84"/>
<ellipse cx="93.94" cy="138.01" rx="0.47" ry="1.36" fill="#80501a" opacity="0.73"/>
<ellipse cx="90.64" cy="74.86" rx="0.55" ry="0.93" fill="#80501a" opacity="0.86"/>
<ellipse cx="90.17" cy="48.42" rx="0.33" ry="1.08" fill="#80501a" opacity="0.64"/>
<ellipse cx="90.23" cy="47.98" rx="0.3" ry="0.86" fill="#80501a" opacity="0.75"/>
<ellipse cx="92.39" cy="137.92" rx="0.31" ry="0.83" fill="#80501a" opacity="0.65"/>
<ellipse cx="91.78" cy="157.44" rx="0.67" ry="1.11" fill="#80501a" opacity="0.85"/>
<ellipse cx="92" cy="173.13" rx="0.33" ry="0.64" fill="#80501a" opacity="0.54"/>
<ellipse cx="103.05" cy="30.58" rx="0.63" ry="1.72" fill="#80501a" opacity="0.83"/>
<ellipse cx="87.47" cy="127.31" rx="0.33" ry="0.57" fill="#80501a" opacity="0.8"/>
<ellipse cx="93.42" cy="58.21" rx="0.47" ry="0.74" fill="#80501a" opacity="0.6"/>
<ellipse cx="97.8" cy="70.78" rx="0.44" ry="0.95" fill="#80501a" opacity="0.89"/>
<ellipse cx="96.56" cy="106.61" rx="0.55" ry="0.88" fill="#80501a" opacity="0.67"/>
<ellipse cx="96.46" cy="95.7" rx="0.43" ry="1.23" fill="#80501a" opacity="0.72"/>
<ellipse cx="100.71" cy="60.09" rx="0.32" ry="0.99" fill="#80501a" opacity="0.57"/>
<ellipse cx="94.42" cy="25.21" rx="0.61" ry="2.05" fill="#80501a" opacity="0.5"/>
<ellipse cx="91.98" cy="104.51" rx="0.63" ry="1.18" fill="#80501a" opacity="0.7"/>
<ellipse cx="98.48" cy="81.24" rx="0.4" ry="1.31" fill="#80501a" opacity="0.61"/>
<ellipse cx="98.51" cy="59.78" rx="0.5" ry="0.87" fill="#80501a" opacity="0.75"/>
<ellipse cx="101.57" cy="38.1" rx="0.59" ry="1.75" fill="#80501a" opacity="0.75"/>
<ellipse cx="92.57" cy="82.61" rx="0.46" ry="1.45" fill="#80501a" opacity="0.53"/>
<ellipse cx="80.86" cy="168.93" rx="0.37" ry="0.76" fill="#80501a" opacity="0.86"/>
<ellipse cx="90.37" cy="106.19" rx="0.67" ry="1.31" fill="#80501a" opacity="0.68"/>
<ellipse cx="94.9" cy="111.11" rx="0.61" ry="1.66" fill="#80501a" opacity="0.64"/>
<ellipse cx="89.63" cy="77.92" rx="0.65" ry="1.79" fill="#80501a" opacity="0.8"/>
<ellipse cx="95.53" cy="52.47" rx="0.62" ry="1.61" fill="#80501a" opacity="0.55"/>
<ellipse cx="97.59" cy="99.85" rx="0.39" ry="0.73" fill="#80501a" opacity="0.62"/>
<ellipse cx="93.68" cy="138.91" rx="0.35" ry="0.64" fill="#80501a" opacity="0.6"/>
<ellipse cx="94.58" cy="77.9" rx="0.36" ry="0.76" fill="#80501a" opacity="0.58"/>
<ellipse cx="88.47" cy="182.97" rx="0.33" ry="1.09" fill="#80501a" opacity="0.54"/>
<ellipse cx="100" cy="87.25" rx="0.63" ry="1.81" fill="#80501a" opacity="0.67"/>
<ellipse cx="97.92" cy="56.78" rx="0.33" ry="0.64" fill="#80501a" opacity="0.66"/>
<ellipse cx="96.77" cy="30.5" rx="0.63" ry="1.76" fill="#80501a" opacity="0.7"/>
<ellipse cx="89.74" cy="127.45" rx="0.35" ry="0.92" fill="#80501a" opacity="0.66"/>
<ellipse cx="93.98" cy="145.03" rx="0.47" ry="1.22" fill="#80501a" opacity="0.8"/>
<ellipse cx="89.4" cy="93.23" rx="0.6" ry="1.88" fill="#80501a" opacity="0.81"/>
<ellipse cx="93.84" cy="138.41" rx="0.58" ry="1.57" fill="#80501a" opacity="0.68"/>
<ellipse cx="96.2" cy="75.71" rx="0.33" ry="0.76" fill="#80501a" opacity="0.81"/>
<ellipse cx="90.8" cy="140.53" rx="0.39" ry="0.91" fill="#80501a" opacity="0.68"/>
<ellipse cx="89.18" cy="125.69" rx="0.58" ry="1.87" fill="#80501a" opacity="0.57"/>
<ellipse cx="93.51" cy="131.03" rx="0.45" ry="1.11" fill="#80501a" opacity="0.89"/>
<ellipse cx="98.74" cy="31.18" rx="0.36" ry="1.06" fill="#80501a" opacity="0.88"/>
<ellipse cx="86.47" cy="109.11" rx="0.53" ry="1.35" fill="#80501a" opacity="0.79"/>
<ellipse cx="93.65" cy="107.97" rx="0.64" ry="1.61" fill="#80501a" opacity="0.66"/>
<ellipse cx="82.41" cy="178.57" rx="0.58" ry="1.31" fill="#80501a" opacity="0.81"/>
<ellipse cx="103.72" cy="44.83" rx="0.44" ry="0.72" fill="#80501a" opacity="0.61"/>
<ellipse cx="86.8" cy="89.75" rx="0.47" ry="1.08" fill="#80501a" opacity="0.78"/>
</g>
<g clip-path="url(#lc3)">
<polygon points="135.4,21.3 134.15,48.88 132.9,76.47 132.51,85 131.63,104.05 131.22,113 132.79,131.63 133.66,142 134.36,159.22 135.48,186.8 137.12,186.8 136.21,159.22 135.64,142 134.98,131.63 133.8,113 134.24,104.05 135.19,85 135.6,76.47 136.94,48.88 138.27,21.3" fill="#b8c942"/>
<polygon points="137.66,21.3 136.35,48.88 135.03,76.47 134.62,85 133.69,104.05 133.25,113 134.51,131.63 135.22,142 135.81,159.22 136.77,186.8 138.41,186.8 137.66,159.22 137.19,142 136.71,131.63 135.83,113 136.3,104.05 137.3,85 137.74,76.47 139.14,48.88 140.54,21.3" fill="#b0c53c"/>
<polygon points="139.93,21.3 138.54,48.88 137.16,76.47 136.73,85 135.75,104.05 135.28,113 136.24,131.63 136.77,142 137.27,159.22 138.06,186.8 139.7,186.8 139.11,159.22 138.75,142 138.43,131.63 137.87,113 138.36,104.05 139.41,85 139.87,76.47 141.34,48.88 142.81,21.3" fill="#a2b936"/>
<polygon points="142.2,21.3 140.74,48.88 139.29,76.47 138.84,85 137.8,104.05 137.32,113 137.97,131.63 138.33,142 138.72,159.22 139.35,186.8 140.99,186.8 140.57,159.22 140.3,142 140.16,131.63 139.9,113 140.42,104.05 141.52,85 142,76.47 143.54,48.88 145.07,21.3" fill="#92ab30"/>
<polygon points="144.46,21.3 142.94,48.88 141.42,76.47 140.95,85 139.86,104.05 139.35,113 139.69,131.63 139.88,142 140.17,159.22 140.64,186.8 142.28,186.8 142.02,159.22 141.86,142 141.88,131.63 141.93,113 142.48,104.05 143.64,85 144.13,76.47 145.74,48.88 147.34,21.3" fill="#a0b734"/>
<polygon points="146.73,21.3 145.14,48.88 143.56,76.47 143.07,85 141.92,104.05 141.38,113 141.42,131.63 141.44,142 141.63,159.22 141.93,186.8 143.57,186.8 143.47,159.22 143.41,142 143.61,131.63 143.97,113 144.54,104.05 145.75,85 146.26,76.47 147.94,48.88 149.61,21.3" fill="#aac138"/>
<polygon points="149,21.3 147.34,48.88 145.69,76.47 145.18,85 143.98,104.05 143.42,113 143.14,131.63 142.99,142 143.08,159.22 143.22,186.8 144.85,186.8 144.92,159.22 144.97,142 145.34,131.63 146,113 146.59,104.05 147.86,85 148.4,76.47 150.14,48.88 151.87,21.3" fill="#a4bd34"/>
<polygon points="151.26,21.3 149.54,48.88 147.82,76.47 147.29,85 146.04,104.05 145.45,113 144.87,131.63 144.55,142 144.53,159.22 144.51,186.8 146.14,186.8 146.38,159.22 146.52,142 147.06,131.63 148.03,113 148.65,104.05 149.97,85 150.53,76.47 152.33,48.88 154.14,21.3" fill="#98b530"/>
<polygon points="153.53,21.3 151.74,48.88 149.95,76.47 149.4,85 148.1,104.05 147.48,113 146.6,131.63 146.1,142 145.99,159.22 145.8,186.8 147.43,186.8 147.83,159.22 148.08,142 148.79,131.63 150.07,113 150.71,104.05 152.08,85 152.66,76.47 154.53,48.88 156.41,21.3" fill="#8cab2a"/>
<path d="M139.68 21.3L138.3 48.88L136.93 76.47L136.5 85L135.52 104.05L135.06 113L136.05 131.63L136.6 142L137.11 159.22L137.92 186.8" fill="none" stroke="#3c6c10" stroke-width="0.7" opacity="0.3"/>
<path d="M144.37 21.3L142.86 48.88L141.34 76.47L140.87 85L139.78 104.05L139.27 113L139.62 131.63L139.82 142L140.12 159.22L140.59 186.8" fill="none" stroke="#3c6c10" stroke-width="0.8" opacity="0.35"/>
<path d="M147.84 21.3L146.22 48.88L144.6 76.47L144.1 85L142.93 104.05L142.38 113L142.26 131.63L142.2 142L142.34 159.22L142.56 186.8" fill="none" stroke="#3c6c10" stroke-width="0.7" opacity="0.3"/>
<path d="M151.51 21.3L149.78 48.88L148.05 76.47L147.52 85L146.26 104.05L145.67 113L145.06 131.63L144.72 142L144.69 159.22L144.65 186.8" fill="none" stroke="#3c6c10" stroke-width="0.8" opacity="0.3"/>
<path d="M142.13 21.3L140.68 48.88L139.23 76.47L138.78 85L137.74 104.05L137.26 113L137.91 131.63L138.28 142L138.68 159.22L139.31 186.8" fill="none" stroke="#d4e860" stroke-width="0.7" opacity="0.3"/>
<path d="M149.47 21.3L147.8 48.88L146.14 76.47L145.62 85L144.41 104.05L143.84 113L143.51 131.63L143.32 142L143.38 159.22L143.49 186.8" fill="none" stroke="#d4e860" stroke-width="0.7" opacity="0.25"/>
<ellipse cx="140.94" cy="80.17" rx="1.32" ry="3.33" fill="#6a3a18" opacity="0.59"/>
<ellipse cx="141.24" cy="152.74" rx="0.81" ry="1.44" fill="#6a3a18" opacity="0.81"/>
<ellipse cx="140.61" cy="154.05" rx="0.69" ry="1.36" fill="#6a3a18" opacity="0.89"/>
<ellipse cx="147.7" cy="80.33" rx="0.84" ry="2.01" fill="#6a3a18" opacity="0.62"/>
<ellipse cx="139.43" cy="111.85" rx="1.26" ry="2.56" fill="#6a3a18" opacity="0.65"/>
<ellipse cx="140.25" cy="64.25" rx="0.79" ry="1.22" fill="#6a3a18" opacity="0.79"/>
<ellipse cx="140.65" cy="68.72" rx="0.96" ry="2.61" fill="#6a3a18" opacity="0.76"/>
<ellipse cx="148.19" cy="81.83" rx="0.41" ry="1.26" fill="#6a3a18" opacity="0.86"/>
<ellipse cx="140.65" cy="149.92" rx="1.25" ry="3.38" fill="#6a3a18" opacity="0.51"/>
<ellipse cx="148.31" cy="25.15" rx="0.52" ry="0.89" fill="#6a3a18" opacity="0.56"/>
<ellipse cx="140.98" cy="61.03" rx="0.46" ry="1.49" fill="#6a3a18" opacity="0.82"/>
<ellipse cx="146" cy="50.42" rx="0.82" ry="2.27" fill="#6a3a18" opacity="0.86"/>
<ellipse cx="137.39" cy="150.57" rx="0.77" ry="1.94" fill="#6a3a18" opacity="0.8"/>
<ellipse cx="142.55" cy="94.13" rx="0.53" ry="1.04" fill="#6a3a18" opacity="0.56"/>
<ellipse cx="138.53" cy="102.93" rx="1.01" ry="2.48" fill="#6a3a18" opacity="0.72"/>
<ellipse cx="139.9" cy="162.65" rx="1.25" ry="3.01" fill="#6a3a18" opacity="0.73"/>
<ellipse cx="139.02" cy="130.75" rx="0.61" ry="2.03" fill="#6a3a18" opacity="0.53"/>
<ellipse cx="134.04" cy="126.18" rx="0.72" ry="2.02" fill="#6a3a18" opacity="0.87"/>
<ellipse cx="142.85" cy="76.67" rx="0.65" ry="2.08" fill="#6a3a18" opacity="0.51"/>
<ellipse cx="138.78" cy="139.29" rx="0.86" ry="1.91" fill="#6a3a18" opacity="0.69"/>
<ellipse cx="136.25" cy="108.17" rx="0.62" ry="1.44" fill="#6a3a18" opacity="0.72"/>
<ellipse cx="140.15" cy="156.82" rx="1.02" ry="2.07" fill="#6a3a18" opacity="0.7"/>
<ellipse cx="144.31" cy="180.76" rx="0.56" ry="1.2" fill="#6a3a18" opacity="0.62"/>
<ellipse cx="144.88" cy="118.01" rx="0.4" ry="1.15" fill="#6a3a18" opacity="0.85"/>
<ellipse cx="137.58" cy="111.38" rx="0.87" ry="1.35" fill="#6a3a18" opacity="0.58"/>
<ellipse cx="139.07" cy="172.11" rx="1.3" ry="3.48" fill="#6a3a18" opacity="0.75"/>
<ellipse cx="142.02" cy="124.53" rx="0.76" ry="1.47" fill="#6a3a18" opacity="0.77"/>
<ellipse cx="135.07" cy="97.25" rx="0.48" ry="0.77" fill="#6a3a18" opacity="0.81"/>
<ellipse cx="139.78" cy="170.92" rx="0.84" ry="2.52" fill="#6a3a18" opacity="0.72"/>
<ellipse cx="139.23" cy="64.97" rx="0.96" ry="2.04" fill="#6a3a18" opacity="0.67"/>
<ellipse cx="134.45" cy="126.95" rx="0.7" ry="1.12" fill="#6a3a18" opacity="0.55"/>
<ellipse cx="140.58" cy="154.17" rx="0.67" ry="1.51" fill="#6a3a18" opacity="0.74"/>
<ellipse cx="140.98" cy="174.74" rx="0.61" ry="1.05" fill="#6a3a18" opacity="0.76"/>
<ellipse cx="141.01" cy="57.58" rx="0.67" ry="1.04" fill="#6a3a18" opacity="0.77"/>
<ellipse cx="137.52" cy="42.95" rx="0.87" ry="1.54" fill="#6a3a18" opacity="0.51"/>
<ellipse cx="139.27" cy="139.48" rx="0.7" ry="2.06" fill="#6a3a18" opacity="0.79"/>
<ellipse cx="136.43" cy="161.46" rx="0.73" ry="2.09" fill="#6a3a18" opacity="0.68"/>
<ellipse cx="139.41" cy="173.87" rx="1.34" ry="3.84" fill="#6a3a18" opacity="0.5"/>
<ellipse cx="151.09" cy="25.68" rx="0.42" ry="0.89" fill="#6a3a18" opacity="0.79"/>
<ellipse cx="143.94" cy="50.11" rx="0.41" ry="0.91" fill="#6a3a18" opacity="0.73"/>
<ellipse cx="135.93" cy="94.15" rx="0.83" ry="1.83" fill="#6a3a18" opacity="0.76"/>
<ellipse cx="137.36" cy="125" rx="1.33" ry="3.97" fill="#6a3a18" opacity="0.73"/>
<ellipse cx="142.76" cy="70.52" rx="1.35" ry="3.82" fill="#6a3a18" opacity="0.83"/>
<ellipse cx="143.42" cy="76.92" rx="1.08" ry="2.29" fill="#6a3a18" opacity="0.67"/>
<ellipse cx="139.61" cy="166.73" rx="1.14" ry="3.03" fill="#6a3a18" opacity="0.86"/>
<ellipse cx="140.4" cy="153.71" rx="0.96" ry="2.51" fill="#6a3a18" opacity="0.83"/>
<ellipse cx="139.87" cy="166.62" rx="1.25" ry="3.79" fill="#6a3a18" opacity="0.85"/>
<ellipse cx="140.23" cy="115.66" rx="1.14" ry="3.69" fill="#6a3a18" opacity="0.64"/>
<ellipse cx="140.71" cy="37.04" rx="1.22" ry="2.33" fill="#6a3a18" opacity="0.8"/>
<ellipse cx="138.91" cy="173.77" rx="0.99" ry="1.9" fill="#6a3a18" opacity="0.6"/>
<ellipse cx="140.35" cy="144.61" rx="0.43" ry="1.29" fill="#6a3a18" opacity="0.81"/>
<ellipse cx="140.24" cy="60.91" rx="1.29" ry="4.1" fill="#6a3a18" opacity="0.71"/>
<ellipse cx="139.78" cy="100.27" rx="0.79" ry="2.23" fill="#6a3a18" opacity="0.65"/>
<ellipse cx="139.58" cy="114.46" rx="1.03" ry="1.86" fill="#6a3a18" opacity="0.52"/>
<ellipse cx="141.17" cy="184.34" rx="1.22" ry="2.22" fill="#6a3a18" opacity="0.74"/>
<ellipse cx="141.88" cy="79" rx="0.67" ry="1.08" fill="#6a3a18" opacity="0.9"/>
<ellipse cx="139.11" cy="163.17" rx="1.21" ry="2.81" fill="#6a3a18" opacity="0.88"/>
<ellipse cx="146.34" cy="147.21" rx="0.52" ry="0.84" fill="#6a3a18" opacity="0.58"/>
<ellipse cx="141.59" cy="52.49" rx="0.7" ry="1.79" fill="#6a3a18" opacity="0.85"/>
<ellipse cx="148.06" cy="97.31" rx="0.41" ry="1.09" fill="#6a3a18" opacity="0.66"/>
<ellipse cx="140.43" cy="42.67" rx="0.7" ry="1.89" fill="#6a3a18" opacity="0.88"/>
<ellipse cx="138.5" cy="131.46" rx="1.34" ry="4.52" fill="#6a3a18" opacity="0.59"/>
<ellipse cx="143.6" cy="29.54" rx="0.91" ry="2.91" fill="#6a3a18" opacity="0.86"/>
<ellipse cx="140.06" cy="158.51" rx="1.12" ry="3.75" fill="#6a3a18" opacity="0.52"/>
<ellipse cx="151.86" cy="46.68" rx="0.76" ry="1.59" fill="#6a3a18" opacity="0.74"/>
<ellipse cx="137.88" cy="145.7" rx="0.89" ry="1.79" fill="#6a3a18" opacity="0.55"/>
<ellipse cx="139.45" cy="101.03" rx="1.14" ry="1.78" fill="#6a3a18" opacity="0.79"/>
<ellipse cx="142.76" cy="54.81" rx="1.32" ry="2.56" fill="#6a3a18" opacity="0.87"/>
<ellipse cx="137.1" cy="163.28" rx="0.63" ry="1.08" fill="#6a3a18" opacity="0.87"/>
<ellipse cx="140.5" cy="159.32" rx="0.57" ry="1.74" fill="#6a3a18" opacity="0.69"/>
<ellipse cx="139.07" cy="124.75" rx="1.16" ry="2.98" fill="#6a3a18" opacity="0.56"/>
<ellipse cx="140.13" cy="163.92" rx="0.95" ry="1.74" fill="#6a3a18" opacity="0.61"/>
<ellipse cx="140.28" cy="158.89" rx="0.88" ry="2.84" fill="#6a3a18" opacity="0.55"/>
<ellipse cx="141.04" cy="181.35" rx="1.29" ry="3.58" fill="#6a3a18" opacity="0.58"/>
<ellipse cx="139.38" cy="100.41" rx="0.92" ry="3.09" fill="#6a3a18" opacity="0.9"/>
<ellipse cx="140.6" cy="172.7" rx="0.86" ry="2.76" fill="#6a3a18" opacity="0.52"/>
<ellipse cx="139.56" cy="140.63" rx="1.23" ry="2.67" fill="#6a3a18" opacity="0.56"/>
<ellipse cx="146.13" cy="23.61" rx="0.48" ry="1.13" fill="#6a3a18" opacity="0.86"/>
<ellipse cx="141.7" cy="58.55" rx="0.76" ry="1.42" fill="#6a3a18" opacity="0.81"/>
<ellipse cx="139.72" cy="138.23" rx="1.09" ry="2.67" fill="#6a3a18" opacity="0.61"/>
<ellipse cx="142.14" cy="56.57" rx="1.16" ry="3.52" fill="#6a3a18" opacity="0.73"/>
<ellipse cx="141.71" cy="55.97" rx="1.17" ry="1.92" fill="#6a3a18" opacity="0.82"/>
<ellipse cx="148.64" cy="77.44" rx="0.66" ry="1.03" fill="#6a3a18" opacity="0.86"/>
<ellipse cx="137.56" cy="100.27" rx="0.48" ry="1.48" fill="#6a3a18" opacity="0.65"/>
<ellipse cx="140.71" cy="49.7" rx="1.08" ry="1.67" fill="#6a3a18" opacity="0.71"/>
<ellipse cx="141.33" cy="95.29" rx="1.24" ry="3.88" fill="#6a3a18" opacity="0.63"/>
<ellipse cx="140.5" cy="138.16" rx="1.19" ry="1.97" fill="#6a3a18" opacity="0.85"/>
<ellipse cx="138.95" cy="177.38" rx="1.04" ry="1.64" fill="#6a3a18" opacity="0.89"/>
<ellipse cx="141.54" cy="59.43" rx="0.73" ry="1.47" fill="#6a3a18" opacity="0.83"/>
<ellipse cx="143.07" cy="28.16" rx="0.67" ry="1.78" fill="#6a3a18" opacity="0.73"/>
<ellipse cx="134.56" cy="107.75" rx="0.87" ry="2.49" fill="#6a3a18" opacity="0.52"/>
<ellipse cx="141.64" cy="43.17" rx="1.01" ry="2.08" fill="#6a3a18" opacity="0.55"/>
<ellipse cx="137.72" cy="88.81" rx="0.76" ry="1.98" fill="#6a3a18" opacity="0.8"/>
<ellipse cx="151.63" cy="49.84" rx="0.6" ry="1.38" fill="#6a3a18" opacity="0.84"/>
<ellipse cx="137.49" cy="108.19" rx="1.33" ry="3.94" fill="#6a3a18" opacity="0.64"/>
<ellipse cx="137.75" cy="62.12" rx="1.23" ry="3.96" fill="#6a3a18" opacity="0.83"/>
<ellipse cx="140.83" cy="160.19" rx="1.03" ry="3.39" fill="#6a3a18" opacity="0.87"/>
<ellipse cx="140.53" cy="63.56" rx="1.03" ry="1.72" fill="#6a3a18" opacity="0.67"/>
<ellipse cx="138.2" cy="104.82" rx="0.76" ry="2.52" fill="#6a3a18" opacity="0.81"/>
<ellipse cx="144.5" cy="174.61" rx="0.88" ry="2.78" fill="#6a3a18" opacity="0.51"/>
<ellipse cx="138.62" cy="126.91" rx="1.04" ry="3.38" fill="#6a3a18" opacity="0.75"/>
<ellipse cx="140.4" cy="63.77" rx="0.97" ry="3.18" fill="#6a3a18" opacity="0.62"/>
<ellipse cx="136.61" cy="72.62" rx="0.71" ry="2.36" fill="#6a3a18" opacity="0.71"/>
<ellipse cx="140.49" cy="66.65" rx="0.75" ry="1.33" fill="#6a3a18" opacity="0.62"/>
<ellipse cx="139.91" cy="88.96" rx="0.83" ry="1.41" fill="#6a3a18" opacity="0.72"/>
<ellipse cx="138.43" cy="158.92" rx="0.8" ry="2.29" fill="#6a3a18" opacity="0.68"/>
<ellipse cx="137.94" cy="111.81" rx="0.99" ry="2.09" fill="#6a3a18" opacity="0.6"/>
<ellipse cx="140.26" cy="59.09" rx="0.67" ry="1.46" fill="#6a3a18" opacity="0.84"/>
<ellipse cx="142.86" cy="61.82" rx="1.01" ry="2.08" fill="#6a3a18" opacity="0.9"/>
<ellipse cx="137.32" cy="71.02" rx="0.41" ry="1.31" fill="#6a3a18" opacity="0.68"/>
<ellipse cx="140.82" cy="33.32" rx="0.74" ry="1.44" fill="#6a3a18" opacity="0.88"/>
<ellipse cx="140.04" cy="142.59" rx="0.9" ry="1.97" fill="#6a3a18" opacity="0.77"/>
<ellipse cx="145.29" cy="122.83" rx="0.67" ry="1.94" fill="#6a3a18" opacity="0.8"/>
<ellipse cx="139.83" cy="145.99" rx="1.31" ry="2.32" fill="#6a3a18" opacity="0.85"/>
<ellipse cx="147.15" cy="24" rx="0.66" ry="2.18" fill="#6a3a18" opacity="0.73"/>
</g>
<g clip-path="url(#lc4)">
<polygon points="173.1,21.3 172.3,48.85 171.49,76.4 170.69,103.95 170.43,113 169.93,131.5 169.65,142 168.42,159.05 168.07,164 166.87,183.5 166.71,186.6 168.03,186.6 168.63,183.5 169.96,164 170.38,159.05 171.82,142 172.2,131.5 172.88,113 173.18,103.95 174.08,76.4 174.98,48.85 175.88,21.3" fill="#acc43c"/>
<polygon points="175.29,21.3 174.41,48.85 173.53,76.4 172.65,103.95 172.36,113 171.72,131.5 171.36,142 169.96,159.05 169.55,164 168.26,183.5 167.75,186.6 169.08,186.6 170.02,183.5 171.45,164 171.91,159.05 173.53,142 174,131.5 174.81,113 175.14,103.95 176.11,76.4 177.09,48.85 178.07,21.3" fill="#b2c83c"/>
<polygon points="177.48,21.3 176.52,48.85 175.57,76.4 174.61,103.95 174.29,113 173.51,131.5 173.07,142 171.5,159.05 171.04,164 169.65,183.5 168.79,186.6 170.12,186.6 171.41,183.5 172.93,164 173.45,159.05 175.24,142 175.79,131.5 176.75,113 177.09,103.95 178.15,76.4 179.21,48.85 180.26,21.3" fill="#a8c236"/>
<polygon points="179.67,21.3 178.64,48.85 177.6,76.4 176.57,103.95 176.23,113 175.3,131.5 174.78,142 173.04,159.05 172.53,164 171.04,183.5 169.84,186.6 171.17,186.6 172.8,183.5 174.42,164 174.99,159.05 176.95,142 177.58,131.5 178.68,113 179.05,103.95 180.19,76.4 181.32,48.85 182.45,21.3" fill="#94b230"/>
<polygon points="181.86,21.3 180.75,48.85 179.64,76.4 178.52,103.95 178.16,113 177.09,131.5 176.49,142 174.58,159.05 174.02,164 172.43,183.5 170.88,186.6 172.21,186.6 174.19,183.5 175.91,164 176.53,159.05 178.66,142 179.37,131.5 180.61,113 181.01,103.95 182.22,76.4 183.43,48.85 184.64,21.3" fill="#80a22a"/>
<polygon points="184.05,21.3 182.86,48.85 181.67,76.4 180.48,103.95 180.09,113 178.89,131.5 178.2,142 176.12,159.05 175.51,164 173.82,183.5 171.93,186.6 173.25,186.6 175.58,183.5 177.4,164 178.07,159.05 180.37,142 181.16,131.5 182.55,113 182.97,103.95 184.26,76.4 185.54,48.85 186.83,21.3" fill="#9ab832"/>
<polygon points="186.24,21.3 184.97,48.85 183.71,76.4 182.44,103.95 182.03,113 180.68,131.5 179.91,142 177.65,159.05 177,164 175.21,183.5 172.97,186.6 174.3,186.6 176.97,183.5 178.89,164 179.61,159.05 182.09,142 182.95,131.5 184.48,113 184.93,103.95 186.29,76.4 187.65,48.85 189.02,21.3" fill="#a8c236"/>
<polygon points="188.43,21.3 187.08,48.85 185.74,76.4 184.4,103.95 183.96,113 182.47,131.5 181.62,142 179.19,159.05 178.49,164 176.6,183.5 174.02,186.6 175.34,186.6 178.36,183.5 180.38,164 181.15,159.05 183.8,142 184.74,131.5 186.41,113 186.89,103.95 188.33,76.4 189.77,48.85 191.21,21.3" fill="#a0bc32"/>
<polygon points="190.61,21.3 189.2,48.85 187.78,76.4 186.36,103.95 185.89,113 184.26,131.5 183.33,142 180.73,159.05 179.98,164 177.99,183.5 175.06,186.6 176.39,186.6 179.75,183.5 181.87,164 182.69,159.05 185.51,142 186.54,131.5 188.35,113 188.85,103.95 190.36,76.4 191.88,48.85 193.39,21.3" fill="#90ae2c"/>
<path d="M177.24 21.3L176.29 48.85L175.34 76.4L174.39 103.95L174.08 113L173.31 131.5L172.88 142L171.33 159.05L170.88 164L169.49 183.5L168.68 186.6" fill="none" stroke="#3c6c10" stroke-width="0.7" opacity="0.3"/>
<path d="M181.77 21.3L180.66 48.85L179.55 76.4L178.45 103.95L178.08 113L177.02 131.5L176.42 142L174.52 159.05L173.96 164L172.37 183.5L170.84 186.6" fill="none" stroke="#3c6c10" stroke-width="0.8" opacity="0.35"/>
<path d="M185.12 21.3L183.89 48.85L182.67 76.4L181.44 103.95L181.04 113L179.76 131.5L179.04 142L176.87 159.05L176.24 164L174.5 183.5L172.44 186.6" fill="none" stroke="#3c6c10" stroke-width="0.7" opacity="0.3"/>
<path d="M188.67 21.3L187.32 48.85L185.97 76.4L184.62 103.95L184.17 113L182.67 131.5L181.81 142L179.36 159.05L178.65 164L176.75 183.5L174.13 186.6" fill="none" stroke="#3c6c10" stroke-width="0.8" opacity="0.3"/>
<path d="M179.6 21.3L178.57 48.85L177.54 76.4L176.51 103.95L176.17 113L175.25 131.5L174.73 142L172.99 159.05L172.49 164L170.99 183.5L169.81 186.6" fill="none" stroke="#d4e860" stroke-width="0.7" opacity="0.3"/>
<path d="M186.7 21.3L185.41 48.85L184.13 76.4L182.85 103.95L182.43 113L181.05 131.5L180.27 142L177.98 159.05L177.31 164L175.5 183.5L173.19 186.6" fill="none" stroke="#d4e860" stroke-width="0.7" opacity="0.25"/>
<ellipse cx="185.99" cy="90.71" rx="0.67" ry="1.5" fill="#6c3c18" opacity="0.68"/>
<ellipse cx="176.8" cy="97.16" rx="0.56" ry="1.43" fill="#6c3c18" opacity="0.65"/>
<ellipse cx="186.4" cy="75.24" rx="0.61" ry="1.45" fill="#6c3c18" opacity="0.57"/>
<ellipse cx="180.36" cy="72.34" rx="0.99" ry="2.59" fill="#6c3c18" opacity="0.54"/>
<ellipse cx="176.32" cy="171.72" rx="1.25" ry="2.39" fill="#6c3c18" opacity="0.67"/>
<ellipse cx="173.86" cy="170.18" rx="0.65" ry="1.67" fill="#6c3c18" opacity="0.7"/>
<ellipse cx="174.67" cy="171.75" rx="0.88" ry="2.19" fill="#6c3c18" opacity="0.71"/>
<ellipse cx="178.28" cy="133.83" rx="0.85" ry="2.78" fill="#6c3c18" opacity="0.77"/>
<ellipse cx="182.29" cy="108.02" rx="0.86" ry="1.96" fill="#6c3c18" opacity="0.72"/>
<ellipse cx="185.99" cy="115.9" rx="0.61" ry="1.43" fill="#6c3c18" opacity="0.75"/>
<ellipse cx="171.07" cy="183.97" rx="0.73" ry="1.54" fill="#6c3c18" opacity="0.89"/>
<ellipse cx="176.54" cy="156.54" rx="0.69" ry="2.19" fill="#6c3c18" opacity="0.78"/>
<ellipse cx="180.61" cy="155.66" rx="0.57" ry="1.05" fill="#6c3c18" opacity="0.62"/>
<ellipse cx="181.33" cy="105.82" rx="1.03" ry="2.73" fill="#6c3c18" opacity="0.64"/>
<ellipse cx="167.97" cy="183.59" rx="0.57" ry="1.7" fill="#6c3c18" opacity="0.62"/>
<ellipse cx="179.93" cy="134.71" rx="0.81" ry="2.52" fill="#6c3c18" opacity="0.73"/>
<ellipse cx="177.93" cy="131.07" rx="0.79" ry="2.16" fill="#6c3c18" opacity="0.71"/>
<ellipse cx="172.33" cy="184.13" rx="0.88" ry="1.56" fill="#6c3c18" opacity="0.56"/>
<ellipse cx="178.81" cy="145.81" rx="0.96" ry="2.93" fill="#6c3c18" opacity="0.75"/>
<ellipse cx="177.69" cy="153.4" rx="0.62" ry="1.84" fill="#6c3c18" opacity="0.63"/>
<ellipse cx="179.4" cy="138.7" rx="0.68" ry="2.18" fill="#6c3c18" opacity="0.73"/>
<ellipse cx="183.1" cy="79.58" rx="0.87" ry="1.42" fill="#6c3c18" opacity="0.86"/>
<ellipse cx="178.15" cy="117.28" rx="0.68" ry="1.35" fill="#6c3c18" opacity="0.52"/>
<ellipse cx="172.03" cy="173.44" rx="0.82" ry="2.51" fill="#6c3c18" opacity="0.62"/>
<ellipse cx="178.77" cy="120.49" rx="0.85" ry="1.69" fill="#6c3c18" opacity="0.66"/>
<ellipse cx="178.06" cy="139.19" rx="0.93" ry="2.8" fill="#6c3c18" opacity="0.6"/>
<ellipse cx="186.11" cy="51.28" rx="0.74" ry="2.46" fill="#6c3c18" opacity="0.62"/>
<ellipse cx="179.38" cy="113.88" rx="0.88" ry="1.46" fill="#6c3c18" opacity="0.55"/>
<ellipse cx="176.69" cy="156.51" rx="0.78" ry="1.47" fill="#6c3c18" opacity="0.61"/>
<ellipse cx="182.3" cy="61.56" rx="0.72" ry="2.04" fill="#6c3c18" opacity="0.54"/>
<ellipse cx="175.3" cy="66.8" rx="0.58" ry="1.8" fill="#6c3c18" opacity="0.82"/>
<ellipse cx="182.39" cy="48.98" rx="1.09" ry="2.43" fill="#6c3c18" opacity="0.88"/>
<ellipse cx="181.74" cy="56.86" rx="0.47" ry="1.12" fill="#6c3c18" opacity="0.55"/>
<ellipse cx="180.32" cy="137.25" rx="0.86" ry="1.71" fill="#6c3c18" opacity="0.74"/>
<ellipse cx="175.53" cy="57.58" rx="0.62" ry="1.58" fill="#6c3c18" opacity="0.61"/>
<ellipse cx="177.13" cy="147.78" rx="1.05" ry="2.71" fill="#6c3c18" opacity="0.62"/>
<ellipse cx="183.04" cy="86.2" rx="0.83" ry="2.28" fill="#6c3c18" opacity="0.54"/>
<ellipse cx="182.9" cy="113.95" rx="0.94" ry="1.97" fill="#6c3c18" opacity="0.53"/>
<ellipse cx="183.97" cy="73.51" rx="0.8" ry="1.83" fill="#6c3c18" opacity="0.86"/>
<ellipse cx="181.36" cy="148.31" rx="0.42" ry="0.86" fill="#6c3c18" opacity="0.51"/>
<ellipse cx="176.02" cy="132.92" rx="0.57" ry="1.57" fill="#6c3c18" opacity="0.78"/>
<ellipse cx="179.01" cy="63.37" rx="0.68" ry="1.28" fill="#6c3c18" opacity="0.55"/>
<ellipse cx="176.74" cy="170.52" rx="0.37" ry="0.6" fill="#6c3c18" opacity="0.56"/>
<ellipse cx="184.83" cy="55.25" rx="0.86" ry="1.39" fill="#6c3c18" opacity="0.62"/>
<ellipse cx="180.65" cy="126.26" rx="1.09" ry="2.18" fill="#6c3c18" opacity="0.67"/>
<ellipse cx="177.98" cy="133.68" rx="0.61" ry="1.89" fill="#6c3c18" opacity="0.81"/>
<ellipse cx="183.76" cy="69.49" rx="0.65" ry="1.28" fill="#6c3c18" opacity="0.54"/>
<ellipse cx="176.42" cy="150.96" rx="1.22" ry="3.55" fill="#6c3c18" opacity="0.53"/>
<ellipse cx="179.15" cy="135.35" rx="0.8" ry="1.36" fill="#6c3c18" opacity="0.88"/>
<ellipse cx="183.15" cy="91.69" rx="0.74" ry="2.27" fill="#6c3c18" opacity="0.75"/>
<ellipse cx="178.91" cy="96.33" rx="1.07" ry="2.5" fill="#6c3c18" opacity="0.7"/>
<ellipse cx="175.2" cy="173.01" rx="1.08" ry="3.26" fill="#6c3c18" opacity="0.6"/>
<ellipse cx="181.43" cy="111.43" rx="0.64" ry="1.27" fill="#6c3c18" opacity="0.52"/>
<ellipse cx="181.69" cy="81.02" rx="0.75" ry="1.58" fill="#6c3c18" opacity="0.55"/>
<ellipse cx="174.25" cy="137.33" rx="0.48" ry="1.19" fill="#6c3c18" opacity="0.68"/>
<ellipse cx="174.45" cy="174.25" rx="0.71" ry="1.82" fill="#6c3c18" opacity="0.63"/>
<ellipse cx="179.24" cy="154.82" rx="1.11" ry="2.06" fill="#6c3c18" opacity="0.77"/>
<ellipse cx="180.47" cy="119.87" rx="0.69" ry="1.43" fill="#6c3c18" opacity="0.64"/>
<ellipse cx="180.53" cy="56.6" rx="0.8" ry="1.52" fill="#6c3c18" opacity="0.78"/>
<ellipse cx="180.78" cy="95.57" rx="0.85" ry="1.58" fill="#6c3c18" opacity="0.53"/>
<ellipse cx="187.22" cy="25.04" rx="0.4" ry="1.13" fill="#6c3c18" opacity="0.89"/>
<ellipse cx="181.91" cy="114.22" rx="0.94" ry="2.19" fill="#6c3c18" opacity="0.58"/>
<ellipse cx="182.43" cy="110.9" rx="1.03" ry="3.35" fill="#6c3c18" opacity="0.76"/>
<ellipse cx="181.88" cy="63.85" rx="0.71" ry="1.12" fill="#6c3c18" opacity="0.81"/>
<ellipse cx="177.22" cy="158.72" rx="1.17" ry="3.8" fill="#6c3c18" opacity="0.57"/>
<ellipse cx="179.63" cy="149.86" rx="0.52" ry="0.98" fill="#6c3c18" opacity="0.83"/>
<ellipse cx="184.17" cy="74.94" rx="0.98" ry="2.17" fill="#6c3c18" opacity="0.83"/>
<ellipse cx="181.14" cy="61.91" rx="1.15" ry="3.28" fill="#6c3c18" opacity="0.86"/>
<ellipse cx="174.38" cy="175.72" rx="0.94" ry="1.72" fill="#6c3c18" opacity="0.62"/>
<ellipse cx="180.13" cy="117.03" rx="0.91" ry="3.02" fill="#6c3c18" opacity="0.54"/>
<ellipse cx="183.55" cy="29.74" rx="0.74" ry="2.13" fill="#6c3c18" opacity="0.5"/>
<ellipse cx="178.92" cy="158.92" rx="0.57" ry="1.19" fill="#6c3c18" opacity="0.76"/>
<ellipse cx="180.24" cy="106.31" rx="1.05" ry="3.22" fill="#6c3c18" opacity="0.86"/>
<ellipse cx="184.77" cy="49.83" rx="0.91" ry="2.34" fill="#6c3c18" opacity="0.64"/>
<ellipse cx="182.55" cy="54.82" rx="1.25" ry="4.03" fill="#6c3c18" opacity="0.85"/>
<ellipse cx="174.81" cy="180.47" rx="0.78" ry="1.28" fill="#6c3c18" opacity="0.77"/>
<ellipse cx="181.37" cy="121.56" rx="0.99" ry="3.26" fill="#6c3c18" opacity="0.69"/>
<ellipse cx="178.28" cy="127.72" rx="0.63" ry="1.19" fill="#6c3c18" opacity="0.77"/>
<ellipse cx="183.78" cy="95.46" rx="1.05" ry="2.33" fill="#6c3c18" opacity="0.73"/>
<ellipse cx="180.44" cy="90.46" rx="0.69" ry="1.29" fill="#6c3c18" opacity="0.86"/>
<ellipse cx="180.23" cy="111.71" rx="1.18" ry="2.37" fill="#6c3c18" opacity="0.54"/>
<ellipse cx="179.21" cy="108.91" rx="0.76" ry="1.98" fill="#6c3c18" opacity="0.55"/>
<ellipse cx="181.11" cy="106.08" rx="0.67" ry="1.53" fill="#6c3c18" opacity="0.53"/>
<ellipse cx="180.87" cy="94.2" rx="0.73" ry="2.14" fill="#6c3c18" opacity="0.55"/>
<ellipse cx="168.99" cy="183.09" rx="0.79" ry="1.78" fill="#6c3c18" opacity="0.57"/>
<ellipse cx="174.8" cy="178.15" rx="1.13" ry="1.85" fill="#6c3c18" opacity="0.59"/>
<ellipse cx="181.27" cy="83.36" rx="1.01" ry="1.94" fill="#6c3c18" opacity="0.62"/>
<ellipse cx="180.3" cy="137.41" rx="1.19" ry="3.06" fill="#6c3c18" opacity="0.87"/>
<ellipse cx="175.1" cy="163.76" rx="1.1" ry="2.4" fill="#6c3c18" opacity="0.81"/>
<ellipse cx="172.86" cy="133.07" rx="0.55" ry="1.59" fill="#6c3c18" opacity="0.88"/>
<ellipse cx="178.46" cy="139.72" rx="0.98" ry="2.95" fill="#6c3c18" opacity="0.55"/>
<ellipse cx="171.43" cy="172.56" rx="0.45" ry="1.07" fill="#6c3c18" opacity="0.84"/>
<ellipse cx="180.06" cy="117.08" rx="0.63" ry="1.09" fill="#6c3c18" opacity="0.82"/>
<ellipse cx="182.79" cy="53.18" rx="0.86" ry="1.56" fill="#6c3c18" opacity="0.85"/>
<ellipse cx="184.05" cy="110.15" rx="0.85" ry="1.33" fill="#6c3c18" opacity="0.64"/>
<ellipse cx="185.68" cy="47.65" rx="1.19" ry="3.59" fill="#6c3c18" opacity="0.51"/>
<ellipse cx="184.75" cy="52.7" rx="0.56" ry="1.35" fill="#6c3c18" opacity="0.56"/>
<ellipse cx="177.51" cy="159.62" rx="0.66" ry="1.43" fill="#6c3c18" opacity="0.59"/>
<ellipse cx="174.69" cy="167.5" rx="0.64" ry="1.19" fill="#6c3c18" opacity="0.64"/>
<ellipse cx="180.37" cy="98.75" rx="0.62" ry="1.61" fill="#6c3c18" opacity="0.63"/>
<ellipse cx="185.38" cy="26.61" rx="1.26" ry="2.05" fill="#6c3c18" opacity="0.56"/>
<ellipse cx="179.23" cy="131.53" rx="0.79" ry="2.04" fill="#6c3c18" opacity="0.71"/>
<ellipse cx="168.62" cy="177.66" rx="0.65" ry="1.91" fill="#6c3c18" opacity="0.85"/>
<ellipse cx="178.49" cy="148.19" rx="0.54" ry="1.12" fill="#6c3c18" opacity="0.82"/>
<ellipse cx="176.98" cy="164.08" rx="0.51" ry="1.51" fill="#6c3c18" opacity="0.8"/>
<ellipse cx="177.36" cy="105.39" rx="0.64" ry="1.47" fill="#6c3c18" opacity="0.52"/>
<ellipse cx="183.84" cy="77.69" rx="1.26" ry="3.07" fill="#6c3c18" opacity="0.65"/>
<ellipse cx="182.47" cy="62.56" rx="0.62" ry="1.95" fill="#6c3c18" opacity="0.68"/>
<ellipse cx="182.06" cy="95.16" rx="0.81" ry="1.5" fill="#6c3c18" opacity="0.53"/>
<ellipse cx="182.24" cy="71.93" rx="1.23" ry="2.67" fill="#6c3c18" opacity="0.87"/>
<ellipse cx="178.79" cy="117.39" rx="0.73" ry="1.91" fill="#6c3c18" opacity="0.89"/>
<ellipse cx="179.53" cy="80.88" rx="0.81" ry="1.34" fill="#6c3c18" opacity="0.69"/>
<ellipse cx="175.58" cy="168.33" rx="0.72" ry="1.47" fill="#6c3c18" opacity="0.78"/>
<ellipse cx="183.39" cy="58.51" rx="0.75" ry="1.98" fill="#6c3c18" opacity="0.85"/>
<ellipse cx="179.37" cy="127.84" rx="1.01" ry="1.7" fill="#6c3c18" opacity="0.82"/>
<ellipse cx="173.36" cy="164.52" rx="0.7" ry="1.33" fill="#6c3c18" opacity="0.71"/>
<ellipse cx="179.72" cy="164.51" rx="0.46" ry="0.99" fill="#6c3c18" opacity="0.8"/>
<ellipse cx="179.2" cy="127.97" rx="0.65" ry="1.5" fill="#6c3c18" opacity="0.52"/>
<ellipse cx="178.91" cy="124.32" rx="0.94" ry="2.48" fill="#6c3c18" opacity="0.6"/>
<ellipse cx="182.88" cy="98.04" rx="1.26" ry="2.08" fill="#6c3c18" opacity="0.75"/>
<ellipse cx="178.18" cy="140.1" rx="0.68" ry="1.23" fill="#6c3c18" opacity="0.56"/>
<ellipse cx="178.56" cy="147.05" rx="0.97" ry="2.54" fill="#6c3c18" opacity="0.72"/>
<ellipse cx="178.41" cy="129.33" rx="0.83" ry="2.42" fill="#6c3c18" opacity="0.6"/>
<ellipse cx="181.46" cy="138.05" rx="0.51" ry="1.52" fill="#6c3c18" opacity="0.89"/>
<ellipse cx="178.28" cy="96.39" rx="0.7" ry="1.09" fill="#6c3c18" opacity="0.69"/>
<ellipse cx="176.38" cy="129.01" rx="0.87" ry="1.71" fill="#6c3c18" opacity="0.8"/>
<ellipse cx="183.5" cy="37.8" rx="0.7" ry="1.16" fill="#6c3c18" opacity="0.7"/>
<ellipse cx="181.86" cy="112.86" rx="0.71" ry="1.33" fill="#6c3c18" opacity="0.8"/>
<ellipse cx="174.93" cy="171.93" rx="0.63" ry="1.88" fill="#6c3c18" opacity="0.6"/>
<ellipse cx="173.83" cy="181.75" rx="1.14" ry="2.72" fill="#6c3c18" opacity="0.63"/>
<ellipse cx="174.84" cy="169.03" rx="1.1" ry="1.82" fill="#6c3c18" opacity="0.76"/>
<ellipse cx="173.52" cy="88.12" rx="0.65" ry="1.49" fill="#6c3c18" opacity="0.87"/>
<ellipse cx="170.85" cy="175.72" rx="0.48" ry="0.98" fill="#6c3c18" opacity="0.67"/>
<ellipse cx="183.11" cy="60.62" rx="0.81" ry="2.74" fill="#6c3c18" opacity="0.59"/>
<ellipse cx="178.69" cy="115.16" rx="1.18" ry="3.72" fill="#6c3c18" opacity="0.61"/>
<ellipse cx="174.36" cy="144.52" rx="0.53" ry="1.28" fill="#6c3c18" opacity="0.86"/>
<ellipse cx="183.57" cy="49.37" rx="0.59" ry="1.54" fill="#6c3c18" opacity="0.85"/>
<ellipse cx="179.39" cy="57.14" rx="0.76" ry="2.39" fill="#6c3c18" opacity="0.57"/>
<ellipse cx="172.7" cy="162.66" rx="0.36" ry="0.63" fill="#6c3c18" opacity="0.89"/>
<ellipse cx="177.11" cy="24.82" rx="0.74" ry="1.27" fill="#6c3c18" opacity="0.57"/>
<ellipse cx="177.88" cy="133.43" rx="1.09" ry="3.44" fill="#6c3c18" opacity="0.89"/>
<ellipse cx="187.18" cy="28.61" rx="1.14" ry="3.19" fill="#6c3c18" opacity="0.52"/>
<ellipse cx="180.49" cy="104.72" rx="0.63" ry="2.11" fill="#6c3c18" opacity="0.63"/>
<ellipse cx="176.08" cy="165.01" rx="0.93" ry="1.67" fill="#6c3c18" opacity="0.67"/>
<ellipse cx="176.12" cy="52.17" rx="0.74" ry="1.82" fill="#6c3c18" opacity="0.54"/>
<ellipse cx="183.23" cy="80.33" rx="0.76" ry="2.51" fill="#6c3c18" opacity="0.85"/>
<ellipse cx="178.26" cy="141.27" rx="0.73" ry="1.48" fill="#6c3c18" opacity="0.53"/>
<ellipse cx="182.77" cy="30.27" rx="0.85" ry="1.33" fill="#6c3c18" opacity="0.78"/>
<ellipse cx="180.49" cy="128.65" rx="0.98" ry="2.74" fill="#6c3c18" opacity="0.89"/>
<ellipse cx="173.72" cy="164.29" rx="0.52" ry="1.2" fill="#6c3c18" opacity="0.89"/>
</g>
<g clip-path="url(#lc5)">
<polygon points="203.58,22 202.63,49.58 201.67,77.17 200.72,104.75 199.77,132.33 198.81,159.92 197.86,187.5 199.84,187.5 200.98,159.92 202.12,132.33 203.26,104.75 204.4,77.17 205.54,49.58 206.68,22" fill="#96c02c"/>
<polygon points="206.02,22 204.92,49.58 203.82,77.17 202.72,104.75 201.62,132.33 200.52,159.92 199.42,187.5 201.39,187.5 202.68,159.92 203.97,132.33 205.26,104.75 206.55,77.17 207.84,49.58 209.13,22" fill="#a0c62e"/>
<polygon points="208.47,22 207.22,49.58 205.97,77.17 204.72,104.75 203.47,132.33 202.22,159.92 200.97,187.5 202.95,187.5 204.38,159.92 205.82,132.33 207.26,104.75 208.7,77.17 210.14,49.58 211.57,22" fill="#a8ca32"/>
<polygon points="210.91,22 209.52,49.58 208.12,77.17 206.72,104.75 205.32,132.33 203.92,159.92 202.53,187.5 204.5,187.5 206.09,159.92 207.67,132.33 209.26,104.75 210.85,77.17 212.43,49.58 214.02,22" fill="#9ac02c"/>
<polygon points="213.36,22 211.81,49.58 210.27,77.17 208.72,104.75 207.17,132.33 205.63,159.92 204.08,187.5 206.06,187.5 207.79,159.92 209.53,132.33 211.26,104.75 212.99,77.17 214.73,49.58 216.46,22" fill="#7eae26"/>
<polygon points="215.8,22 214.11,49.58 212.41,77.17 210.72,104.75 209.03,132.33 207.33,159.92 205.64,187.5 207.61,187.5 209.5,159.92 211.38,132.33 213.26,104.75 215.14,77.17 217.02,49.58 218.91,22" fill="#689e1e"/>
<polygon points="218.25,22 216.4,49.58 214.56,77.17 212.72,104.75 210.88,132.33 209.04,159.92 207.19,187.5 209.17,187.5 211.2,159.92 213.23,132.33 215.26,104.75 217.29,77.17 219.32,49.58 221.35,22" fill="#58921a"/>
<polygon points="220.69,22 218.7,49.58 216.71,77.17 214.72,104.75 212.73,132.33 210.74,159.92 208.75,187.5 210.72,187.5 212.9,159.92 215.08,132.33 217.26,104.75 219.44,77.17 221.62,49.58 223.8,22" fill="#508a18"/>
<polygon points="223.14,22 221,49.58 218.86,77.17 216.72,104.75 214.58,132.33 212.44,159.92 210.3,187.5 212.28,187.5 214.61,159.92 216.93,132.33 219.26,104.75 221.59,77.17 223.91,49.58 226.24,22" fill="#5a901a"/>
<path d="M208.2 22L206.97 49.58L205.73 77.17L204.5 104.75L203.27 132.33L202.03 159.92L200.8 187.5" fill="none" stroke="#3c6c10" stroke-width="0.7" opacity="0.3"/>
<path d="M213.26 22L211.72 49.58L210.18 77.17L208.64 104.75L207.1 132.33L205.56 159.92L204.02 187.5" fill="none" stroke="#3c6c10" stroke-width="0.8" opacity="0.35"/>
<path d="M217 22L215.23 49.58L213.47 77.17L211.7 104.75L209.93 132.33L208.17 159.92L206.4 187.5" fill="none" stroke="#3c6c10" stroke-width="0.7" opacity="0.3"/>
<path d="M220.96 22L218.95 49.58L216.95 77.17L214.94 104.75L212.93 132.33L210.93 159.92L208.92 187.5" fill="none" stroke="#3c6c10" stroke-width="0.8" opacity="0.3"/>
<path d="M210.84 22L209.45 49.58L208.05 77.17L206.66 104.75L205.27 132.33L203.87 159.92L202.48 187.5" fill="none" stroke="#d4e860" stroke-width="0.7" opacity="0.3"/>
<path d="M218.76 22L216.89 49.58L215.01 77.17L213.14 104.75L211.27 132.33L209.39 159.92L207.52 187.5" fill="none" stroke="#d4e860" stroke-width="0.7" opacity="0.25"/>
<ellipse cx="211.83" cy="86.51" rx="1.04" ry="1.6" fill="#664418" opacity="0.74"/>
<ellipse cx="207.32" cy="173.59" rx="0.83" ry="1.85" fill="#664418" opacity="0.6"/>
<ellipse cx="215.89" cy="56.04" rx="0.99" ry="1.61" fill="#664418" opacity="0.78"/>
<ellipse cx="212.39" cy="76.39" rx="0.42" ry="1.4" fill="#664418" opacity="0.5"/>
<ellipse cx="207.69" cy="144.51" rx="0.54" ry="1.82" fill="#664418" opacity="0.59"/>
<ellipse cx="206.89" cy="125.67" rx="0.59" ry="1.34" fill="#664418" opacity="0.71"/>
<ellipse cx="206.2" cy="122.97" rx="0.56" ry="1.41" fill="#664418" opacity="0.59"/>
<ellipse cx="208.32" cy="122.92" rx="0.99" ry="2.38" fill="#664418" opacity="0.79"/>
<ellipse cx="211.25" cy="108.31" rx="1" ry="2.51" fill="#664418" opacity="0.71"/>
<ellipse cx="205.64" cy="109.19" rx="0.36" ry="1.1" fill="#664418" opacity="0.68"/>
<ellipse cx="214.28" cy="127.44" rx="0.66" ry="1.07" fill="#664418" opacity="0.65"/>
<ellipse cx="201.73" cy="158.39" rx="0.35" ry="0.7" fill="#664418" opacity="0.54"/>
<ellipse cx="211.62" cy="81.6" rx="0.48" ry="0.82" fill="#664418" opacity="0.66"/>
<ellipse cx="204.53" cy="185.01" rx="0.49" ry="1.48" fill="#664418" opacity="0.8"/>
<ellipse cx="210.88" cy="48.21" rx="0.51" ry="1.01" fill="#664418" opacity="0.65"/>
<ellipse cx="213.76" cy="78.93" rx="0.51" ry="0.97" fill="#664418" opacity="0.73"/>
<ellipse cx="215.59" cy="33.32" rx="0.67" ry="1.34" fill="#664418" opacity="0.83"/>
<ellipse cx="220.35" cy="38.75" rx="0.37" ry="0.86" fill="#664418" opacity="0.82"/>
<ellipse cx="209.13" cy="123.78" rx="0.52" ry="1.23" fill="#664418" opacity="0.65"/>
<ellipse cx="207.69" cy="139.07" rx="0.94" ry="2.05" fill="#664418" opacity="0.65"/>
<ellipse cx="204.54" cy="117.46" rx="0.7" ry="2" fill="#664418" opacity="0.65"/>
<ellipse cx="210.64" cy="131.49" rx="0.54" ry="1.58" fill="#664418" opacity="0.65"/>
<ellipse cx="212.9" cy="108.92" rx="0.51" ry="1.35" fill="#664418" opacity="0.69"/>
<ellipse cx="208.92" cy="98.64" rx="0.49" ry="1.56" fill="#664418" opacity="0.68"/>
<ellipse cx="210.1" cy="103.34" rx="0.94" ry="2.62" fill="#664418" opacity="0.8"/>
<ellipse cx="211.58" cy="88.87" rx="0.91" ry="2.7" fill="#664418" opacity="0.55"/>
<ellipse cx="212.45" cy="59.64" rx="0.94" ry="1.62" fill="#664418" opacity="0.54"/>
<ellipse cx="210.47" cy="145.66" rx="0.88" ry="2.14" fill="#664418" opacity="0.52"/>
<ellipse cx="210.03" cy="135.6" rx="0.81" ry="2.75" fill="#664418" opacity="0.83"/>
<ellipse cx="206.86" cy="164.82" rx="0.5" ry="1.69" fill="#664418" opacity="0.61"/>
<ellipse cx="215.31" cy="66.37" rx="0.64" ry="1.99" fill="#664418" opacity="0.72"/>
<ellipse cx="212.31" cy="106.52" rx="0.97" ry="2.91" fill="#664418" opacity="0.84"/>
<ellipse cx="214.22" cy="65.52" rx="0.53" ry="1.34" fill="#664418" opacity="0.65"/>
<ellipse cx="210.57" cy="98.97" rx="0.93" ry="1.78" fill="#664418" opacity="0.87"/>
<ellipse cx="210.14" cy="113.81" rx="0.67" ry="1.69" fill="#664418" opacity="0.66"/>
<ellipse cx="210.33" cy="115.24" rx="0.66" ry="1.87" fill="#664418" opacity="0.82"/>
<ellipse cx="212.69" cy="119.62" rx="1" ry="2.36" fill="#664418" opacity="0.85"/>
<ellipse cx="215.52" cy="33.32" rx="0.96" ry="1.61" fill="#664418" opacity="0.74"/>
<ellipse cx="214.03" cy="53.1" rx="0.63" ry="1.55" fill="#664418" opacity="0.77"/>
<ellipse cx="209.25" cy="133.01" rx="0.61" ry="1.89" fill="#664418" opacity="0.56"/>
<ellipse cx="207.48" cy="172.23" rx="0.92" ry="3.03" fill="#664418" opacity="0.67"/>
<ellipse cx="210.05" cy="130.41" rx="0.99" ry="2.77" fill="#664418" opacity="0.56"/>
<ellipse cx="205.68" cy="33.15" rx="0.64" ry="1.34" fill="#664418" opacity="0.59"/>
<ellipse cx="209.8" cy="118" rx="0.99" ry="2.11" fill="#664418" opacity="0.84"/>
<ellipse cx="221.78" cy="48.53" rx="0.45" ry="0.73" fill="#664418" opacity="0.65"/>
<ellipse cx="209.63" cy="127.49" rx="0.79" ry="1.36" fill="#664418" opacity="0.69"/>
<ellipse cx="208.76" cy="141.61" rx="0.94" ry="1.67" fill="#664418" opacity="0.87"/>
<ellipse cx="205.48" cy="184.87" rx="0.41" ry="0.9" fill="#664418" opacity="0.8"/>
<ellipse cx="203.62" cy="104.19" rx="0.49" ry="1.55" fill="#664418" opacity="0.74"/>
<ellipse cx="210.34" cy="111.33" rx="0.58" ry="1.17" fill="#664418" opacity="0.86"/>
<ellipse cx="208.08" cy="160.53" rx="0.82" ry="2.73" fill="#664418" opacity="0.64"/>
<ellipse cx="200.03" cy="176.52" rx="0.43" ry="1.02" fill="#664418" opacity="0.6"/>
<ellipse cx="208.73" cy="143.89" rx="0.92" ry="1.93" fill="#664418" opacity="0.53"/>
<ellipse cx="208.54" cy="114.31" rx="0.82" ry="1.96" fill="#664418" opacity="0.51"/>
<ellipse cx="210.45" cy="106.91" rx="0.85" ry="1.51" fill="#664418" opacity="0.73"/>
</g>
<g clip-path="url(#lc6)">
<polygon points="255.19,24.2 254,51.75 252.81,79.3 251.92,100 251.62,106.85 250.43,134.4 249.24,161.95 248.05,189.5 250.13,189.5 251.46,161.95 252.8,134.4 254.14,106.85 254.47,100 255.48,79.3 256.82,51.75 258.15,24.2" fill="#9ec034"/>
<polygon points="257.52,24.2 256.22,51.75 254.91,79.3 253.93,100 253.6,106.85 252.3,134.4 250.99,161.95 249.69,189.5 251.76,189.5 253.21,161.95 254.67,134.4 256.12,106.85 256.48,100 257.58,79.3 259.03,51.75 260.49,24.2" fill="#94bc30"/>
<polygon points="259.86,24.2 258.43,51.75 257.01,79.3 255.94,100 255.59,106.85 254.16,134.4 252.74,161.95 251.32,189.5 253.39,189.5 254.96,161.95 256.53,134.4 258.1,106.85 258.49,100 259.68,79.3 261.25,51.75 262.82,24.2" fill="#84b02a"/>
<polygon points="262.19,24.2 260.65,51.75 259.11,79.3 257.95,100 257.57,106.85 256.03,134.4 254.49,161.95 252.95,189.5 255.03,189.5 256.71,161.95 258.4,134.4 260.09,106.85 260.51,100 261.77,79.3 263.46,51.75 265.15,24.2" fill="#98bc32"/>
<polygon points="264.52,24.2 262.87,51.75 261.21,79.3 259.96,100 259.55,106.85 257.9,134.4 256.24,161.95 254.59,189.5 256.66,189.5 258.46,161.95 260.27,134.4 262.07,106.85 262.52,100 263.87,79.3 265.68,51.75 267.49,24.2" fill="#a4c636"/>
<polygon points="266.86,24.2 265.08,51.75 263.31,79.3 261.97,100 261.53,106.85 259.76,134.4 257.99,161.95 256.22,189.5 258.29,189.5 260.21,161.95 262.13,134.4 264.05,106.85 264.53,100 265.97,79.3 267.9,51.75 269.82,24.2" fill="#82ac28"/>
<polygon points="269.19,24.2 267.3,51.75 265.41,79.3 263.99,100 263.52,106.85 261.63,134.4 259.74,161.95 257.85,189.5 259.93,189.5 261.96,161.95 264,134.4 266.03,106.85 266.54,100 268.07,79.3 270.11,51.75 272.15,24.2" fill="#6e9e22"/>
<polygon points="271.52,24.2 269.51,51.75 267.51,79.3 266,100 265.5,106.85 263.49,134.4 261.49,161.95 259.49,189.5 261.56,189.5 263.71,161.95 265.86,134.4 268.02,106.85 268.55,100 270.17,79.3 272.33,51.75 274.49,24.2" fill="#7ca826"/>
<polygon points="273.86,24.2 271.73,51.75 269.6,79.3 268.01,100 267.48,106.85 265.36,134.4 263.24,161.95 261.12,189.5 263.19,189.5 265.46,161.95 267.73,134.4 270,106.85 270.56,100 272.27,79.3 274.55,51.75 276.82,24.2" fill="#8ab02a"/>
<path d="M259.6 24.2L258.19 51.75L256.78 79.3L255.72 100L255.37 106.85L253.96 134.4L252.55 161.95L251.14 189.5" fill="none" stroke="#3c6c10" stroke-width="0.7" opacity="0.3"/>
<path d="M264.43 24.2L262.78 51.75L261.12 79.3L259.88 100L259.47 106.85L257.82 134.4L256.17 161.95L254.52 189.5" fill="none" stroke="#3c6c10" stroke-width="0.8" opacity="0.35"/>
<path d="M268 24.2L266.17 51.75L264.34 79.3L262.96 100L262.5 106.85L260.68 134.4L258.85 161.95L257.02 189.5" fill="none" stroke="#3c6c10" stroke-width="0.7" opacity="0.3"/>
<path d="M271.78 24.2L269.76 51.75L267.74 79.3L266.22 100L265.72 106.85L263.7 134.4L261.68 161.95L259.67 189.5" fill="none" stroke="#3c6c10" stroke-width="0.8" opacity="0.3"/>
<path d="M262.12 24.2L260.58 51.75L259.05 79.3L257.89 100L257.51 106.85L255.97 134.4L254.44 161.95L252.9 189.5" fill="none" stroke="#d4e860" stroke-width="0.7" opacity="0.3"/>
<path d="M269.68 24.2L267.76 51.75L265.85 79.3L264.41 100L263.93 106.85L262.02 134.4L260.11 161.95L258.2 189.5" fill="none" stroke="#d4e860" stroke-width="0.7" opacity="0.25"/>
<ellipse cx="260.27" cy="83.12" rx="0.81" ry="2.64" fill="#6e3418" opacity="0.63"/>
<ellipse cx="257" cy="162.06" rx="0.48" ry="0.82" fill="#6e3418" opacity="0.85"/>
<ellipse cx="262.2" cy="45.08" rx="1.07" ry="1.89" fill="#6e3418" opacity="0.69"/>
<ellipse cx="261.1" cy="52.66" rx="0.83" ry="1.89" fill="#6e3418" opacity="0.58"/>
<ellipse cx="262.82" cy="46.7" rx="1.32" ry="3.25" fill="#6e3418" opacity="0.86"/>
<ellipse cx="265.41" cy="28.64" rx="0.85" ry="2.21" fill="#6e3418" opacity="0.78"/>
<ellipse cx="257.65" cy="63.18" rx="0.54" ry="0.87" fill="#6e3418" opacity="0.66"/>
<ellipse cx="259.55" cy="109.77" rx="1.11" ry="2.18" fill="#6e3418" opacity="0.74"/>
<ellipse cx="251.79" cy="152.66" rx="0.53" ry="1.41" fill="#6e3418" opacity="0.89"/>
<ellipse cx="263.29" cy="32.85" rx="1.19" ry="3.62" fill="#6e3418" opacity="0.64"/>
<ellipse cx="256.47" cy="156.94" rx="1.37" ry="3.15" fill="#6e3418" opacity="0.66"/>
<ellipse cx="263.15" cy="40.4" rx="1.22" ry="3.4" fill="#6e3418" opacity="0.56"/>
<ellipse cx="261.11" cy="81.74" rx="0.92" ry="3.09" fill="#6e3418" opacity="0.9"/>
<ellipse cx="257.3" cy="153.88" rx="1.05" ry="3.11" fill="#6e3418" opacity="0.86"/>
<ellipse cx="253.96" cy="147.41" rx="0.76" ry="2.34" fill="#6e3418" opacity="0.81"/>
<ellipse cx="262.2" cy="41.1" rx="0.48" ry="1.61" fill="#6e3418" opacity="0.77"/>
<ellipse cx="258.3" cy="146.46" rx="1.34" ry="3.92" fill="#6e3418" opacity="0.83"/>
<ellipse cx="253.91" cy="155.59" rx="1" ry="3.06" fill="#6e3418" opacity="0.81"/>
<ellipse cx="257.13" cy="166.66" rx="1.37" ry="2.41" fill="#6e3418" opacity="0.89"/>
<ellipse cx="256.17" cy="153.22" rx="1.3" ry="2.55" fill="#6e3418" opacity="0.58"/>
<ellipse cx="256.73" cy="100.06" rx="1.18" ry="3.37" fill="#6e3418" opacity="0.66"/>
<ellipse cx="260.39" cy="152.63" rx="0.94" ry="2.88" fill="#6e3418" opacity="0.66"/>
<ellipse cx="270.79" cy="40.25" rx="0.59" ry="1.55" fill="#6e3418" opacity="0.83"/>
<ellipse cx="256.6" cy="154.1" rx="1.04" ry="1.63" fill="#6e3418" opacity="0.54"/>
<ellipse cx="255.25" cy="157.24" rx="0.93" ry="1.79" fill="#6e3418" opacity="0.64"/>
<ellipse cx="255.19" cy="162.42" rx="0.9" ry="1.52" fill="#6e3418" opacity="0.61"/>
<ellipse cx="256.16" cy="139.3" rx="0.77" ry="2.16" fill="#6e3418" opacity="0.52"/>
<ellipse cx="254.36" cy="158.94" rx="0.88" ry="2.91" fill="#6e3418" opacity="0.64"/>
<ellipse cx="265.36" cy="62.36" rx="0.91" ry="2.07" fill="#6e3418" opacity="0.7"/>
<ellipse cx="255.65" cy="180.37" rx="1.29" ry="2.37" fill="#6e3418" opacity="0.71"/>
<ellipse cx="264.02" cy="26.26" rx="1.37" ry="3.27" fill="#6e3418" opacity="0.82"/>
<ellipse cx="263.17" cy="66.66" rx="1.31" ry="3.27" fill="#6e3418" opacity="0.65"/>
<ellipse cx="258.57" cy="175.99" rx="0.43" ry="1.17" fill="#6e3418" opacity="0.68"/>
<ellipse cx="255.75" cy="180.7" rx="1.17" ry="3.15" fill="#6e3418" opacity="0.65"/>
<ellipse cx="266.7" cy="110.43" rx="0.68" ry="1.51" fill="#6e3418" opacity="0.89"/>
<ellipse cx="268.45" cy="35.39" rx="0.72" ry="1.69" fill="#6e3418" opacity="0.8"/>
<ellipse cx="260.09" cy="169.94" rx="0.41" ry="0.88" fill="#6e3418" opacity="0.55"/>
<ellipse cx="251.54" cy="179.91" rx="0.73" ry="1.91" fill="#6e3418" opacity="0.52"/>
<ellipse cx="264.06" cy="89.46" rx="0.55" ry="1.63" fill="#6e3418" opacity="0.62"/>
<ellipse cx="260.76" cy="113.99" rx="1.27" ry="3.54" fill="#6e3418" opacity="0.65"/>
<ellipse cx="258.51" cy="181.54" rx="0.55" ry="1.01" fill="#6e3418" opacity="0.73"/>
<ellipse cx="255.35" cy="159.41" rx="0.47" ry="1.18" fill="#6e3418" opacity="0.85"/>
<ellipse cx="258.49" cy="52.35" rx="0.57" ry="0.94" fill="#6e3418" opacity="0.62"/>
<ellipse cx="269.28" cy="87.97" rx="0.5" ry="1.05" fill="#6e3418" opacity="0.88"/>
<ellipse cx="261.91" cy="58.03" rx="1" ry="1.74" fill="#6e3418" opacity="0.6"/>
<ellipse cx="261.38" cy="89.75" rx="0.83" ry="2.67" fill="#6e3418" opacity="0.68"/>
<ellipse cx="261.1" cy="161.23" rx="0.57" ry="1.04" fill="#6e3418" opacity="0.8"/>
<ellipse cx="259.34" cy="102.05" rx="1.17" ry="3.43" fill="#6e3418" opacity="0.61"/>
<ellipse cx="262.58" cy="84.71" rx="0.56" ry="1.51" fill="#6e3418" opacity="0.6"/>
<ellipse cx="257.41" cy="150.62" rx="0.94" ry="3.08" fill="#6e3418" opacity="0.61"/>
<ellipse cx="260.09" cy="65.46" rx="1.08" ry="3.17" fill="#6e3418" opacity="0.77"/>
<ellipse cx="255.46" cy="92.77" rx="0.57" ry="1.55" fill="#6e3418" opacity="0.89"/>
<ellipse cx="263.39" cy="128.45" rx="0.62" ry="2.03" fill="#6e3418" opacity="0.8"/>
<ellipse cx="261.26" cy="81.32" rx="0.82" ry="2.58" fill="#6e3418" opacity="0.71"/>
<ellipse cx="266.62" cy="110.27" rx="0.47" ry="1.01" fill="#6e3418" opacity="0.53"/>
<ellipse cx="258.93" cy="92.85" rx="1.31" ry="3.62" fill="#6e3418" opacity="0.73"/>
<ellipse cx="259.82" cy="91.31" rx="1.26" ry="3.89" fill="#6e3418" opacity="0.56"/>
<ellipse cx="259" cy="134.52" rx="0.92" ry="2.93" fill="#6e3418" opacity="0.8"/>
<ellipse cx="262.65" cy="158.62" rx="0.47" ry="1.32" fill="#6e3418" opacity="0.78"/>
<ellipse cx="260.67" cy="124.97" rx="0.73" ry="1.94" fill="#6e3418" opacity="0.83"/>
<ellipse cx="261.58" cy="70.24" rx="1.18" ry="3.93" fill="#6e3418" opacity="0.82"/>
<ellipse cx="255.26" cy="84.22" rx="0.88" ry="1.88" fill="#6e3418" opacity="0.5"/>
<ellipse cx="258.61" cy="127.7" rx="0.88" ry="1.46" fill="#6e3418" opacity="0.68"/>
<ellipse cx="253.24" cy="115.71" rx="0.87" ry="1.52" fill="#6e3418" opacity="0.59"/>
<ellipse cx="257.24" cy="127.73" rx="0.84" ry="2.53" fill="#6e3418" opacity="0.58"/>
<ellipse cx="257.8" cy="161.6" rx="0.41" ry="1.21" fill="#6e3418" opacity="0.51"/>
<ellipse cx="260.76" cy="107.6" rx="0.73" ry="1.97" fill="#6e3418" opacity="0.79"/>
<ellipse cx="256.75" cy="120.55" rx="0.85" ry="2.66" fill="#6e3418" opacity="0.9"/>
<ellipse cx="255.31" cy="155.91" rx="0.97" ry="1.62" fill="#6e3418" opacity="0.69"/>
<ellipse cx="262.66" cy="47.77" rx="1.18" ry="3.36" fill="#6e3418" opacity="0.68"/>
<ellipse cx="259.87" cy="81.31" rx="0.82" ry="2.39" fill="#6e3418" opacity="0.71"/>
<ellipse cx="260.52" cy="96.95" rx="1.2" ry="2.28" fill="#6e3418" opacity="0.61"/>
<ellipse cx="267.22" cy="116.57" rx="0.83" ry="2.72" fill="#6e3418" opacity="0.87"/>
<ellipse cx="252.28" cy="142.74" rx="0.51" ry="0.8" fill="#6e3418" opacity="0.85"/>
<ellipse cx="255.13" cy="142.66" rx="0.6" ry="1.1" fill="#6e3418" opacity="0.75"/>
<ellipse cx="255.24" cy="186.12" rx="0.94" ry="3.01" fill="#6e3418" opacity="0.82"/>
<ellipse cx="259.96" cy="99.6" rx="0.76" ry="1.39" fill="#6e3418" opacity="0.81"/>
<ellipse cx="267.39" cy="102.21" rx="0.85" ry="2.07" fill="#6e3418" opacity="0.83"/>
<ellipse cx="261.21" cy="46.9" rx="0.84" ry="1.67" fill="#6e3418" opacity="0.51"/>
<ellipse cx="262.47" cy="172.8" rx="0.96" ry="2.26" fill="#6e3418" opacity="0.79"/>
<ellipse cx="267.34" cy="88.16" rx="0.47" ry="0.73" fill="#6e3418" opacity="0.59"/>
<ellipse cx="257.87" cy="120.62" rx="0.69" ry="2.12" fill="#6e3418" opacity="0.81"/>
<ellipse cx="260.93" cy="101" rx="0.73" ry="1.57" fill="#6e3418" opacity="0.75"/>
<ellipse cx="254.67" cy="169" rx="1.15" ry="2.21" fill="#6e3418" opacity="0.6"/>
<ellipse cx="256.62" cy="172.3" rx="0.77" ry="1.48" fill="#6e3418" opacity="0.68"/>
</g>
<g clip-path="url(#lc7)">
<polygon points="286.81,24.2 285.47,51.75 284.14,79.3 282.8,106.85 281.46,134.4 280.12,161.95 278.78,189.5 280.49,189.5 281.98,161.95 283.47,134.4 284.96,106.85 286.45,79.3 287.95,51.75 289.44,24.2" fill="#b6d02c"/>
<polygon points="288.88,24.2 287.42,51.75 285.96,79.3 284.5,106.85 283.04,134.4 281.58,161.95 280.12,189.5 281.83,189.5 283.44,161.95 285.06,134.4 286.67,106.85 288.28,79.3 289.89,51.75 291.51,24.2" fill="#c4da30"/>
<polygon points="290.95,24.2 289.37,51.75 287.79,79.3 286.21,106.85 284.63,134.4 283.05,161.95 281.47,189.5 283.18,189.5 284.91,161.95 286.64,134.4 288.37,106.85 290.11,79.3 291.84,51.75 293.57,24.2" fill="#cce034"/>
<polygon points="293.01,24.2 291.31,51.75 289.61,79.3 287.91,106.85 286.21,134.4 284.51,161.95 282.81,189.5 284.52,189.5 286.37,161.95 288.23,134.4 290.08,106.85 291.93,79.3 293.79,51.75 295.64,24.2" fill="#d2e43a"/>
<polygon points="295.08,24.2 293.26,51.75 291.44,79.3 289.62,106.85 287.8,134.4 285.98,161.95 284.16,189.5 285.86,189.5 287.84,161.95 289.81,134.4 291.78,106.85 293.76,79.3 295.73,51.75 297.71,24.2" fill="#cee238"/>
<polygon points="297.15,24.2 295.21,51.75 293.27,79.3 291.32,106.85 289.38,134.4 287.44,161.95 285.5,189.5 287.21,189.5 289.3,161.95 291.4,134.4 293.49,106.85 295.58,79.3 297.68,51.75 299.77,24.2" fill="#c2da30"/>
<polygon points="299.21,24.2 297.15,51.75 295.09,79.3 293.03,106.85 290.97,134.4 288.91,161.95 286.85,189.5 288.55,189.5 290.77,161.95 292.98,134.4 295.2,106.85 297.41,79.3 299.62,51.75 301.84,24.2" fill="#b4d02a"/>
<polygon points="301.28,24.2 299.1,51.75 296.92,79.3 294.74,106.85 292.55,134.4 290.37,161.95 288.19,189.5 289.9,189.5 292.23,161.95 294.57,134.4 296.9,106.85 299.24,79.3 301.57,51.75 303.91,24.2" fill="#a6c626"/>
<polygon points="303.35,24.2 301.05,51.75 298.74,79.3 296.44,106.85 294.14,134.4 291.84,161.95 289.53,189.5 291.24,189.5 293.7,161.95 296.15,134.4 298.61,106.85 301.06,79.3 303.52,51.75 305.97,24.2" fill="#9cbe24"/>
<path d="M290.72 24.2L289.15 51.75L287.59 79.3L286.02 106.85L284.45 134.4L282.89 161.95L281.32 189.5" fill="none" stroke="#3c6c10" stroke-width="0.7" opacity="0.3"/>
<path d="M295 24.2L293.18 51.75L291.37 79.3L289.55 106.85L287.73 134.4L285.92 161.95L284.1 189.5" fill="none" stroke="#3c6c10" stroke-width="0.8" opacity="0.35"/>
<path d="M298.16 24.2L296.16 51.75L294.16 79.3L292.16 106.85L290.16 134.4L288.16 161.95L286.16 189.5" fill="none" stroke="#3c6c10" stroke-width="0.7" opacity="0.3"/>
<path d="M301.51 24.2L299.31 51.75L297.12 79.3L294.92 106.85L292.73 134.4L290.53 161.95L288.34 189.5" fill="none" stroke="#3c6c10" stroke-width="0.8" opacity="0.3"/>
<path d="M292.95 24.2L291.26 51.75L289.56 79.3L287.86 106.85L286.17 134.4L284.47 161.95L282.77 189.5" fill="none" stroke="#d4e860" stroke-width="0.7" opacity="0.3"/>
<path d="M299.65 24.2L297.56 51.75L295.47 79.3L293.39 106.85L291.3 134.4L289.21 161.95L287.13 189.5" fill="none" stroke="#d4e860" stroke-width="0.7" opacity="0.25"/>
<ellipse cx="292.31" cy="120.65" rx="0.52" ry="0.86" fill="#76381a" opacity="0.79"/>
<ellipse cx="298.86" cy="34.87" rx="0.78" ry="2.17" fill="#76381a" opacity="0.79"/>
<ellipse cx="296.31" cy="64.88" rx="0.53" ry="0.96" fill="#76381a" opacity="0.86"/>
<ellipse cx="291.53" cy="122.83" rx="0.68" ry="1.54" fill="#76381a" opacity="0.82"/>
<ellipse cx="289.8" cy="159.08" rx="0.33" ry="0.56" fill="#76381a" opacity="0.89"/>
<ellipse cx="291.84" cy="155.68" rx="0.57" ry="1.14" fill="#76381a" opacity="0.87"/>
<ellipse cx="300.07" cy="61.62" rx="0.61" ry="1.98" fill="#76381a" opacity="0.61"/>
<ellipse cx="296.6" cy="50.95" rx="1.12" ry="3.18" fill="#76381a" opacity="0.57"/>
<ellipse cx="288.36" cy="156.38" rx="0.85" ry="1.47" fill="#76381a" opacity="0.81"/>
<ellipse cx="280.8" cy="169.7" rx="0.71" ry="1.82" fill="#76381a" opacity="0.83"/>
<ellipse cx="290.73" cy="107.25" rx="0.59" ry="0.97" fill="#76381a" opacity="0.72"/>
<ellipse cx="293.69" cy="73.13" rx="0.55" ry="1.6" fill="#76381a" opacity="0.51"/>
<ellipse cx="286.49" cy="160.02" rx="0.37" ry="1.01" fill="#76381a" opacity="0.58"/>
<ellipse cx="294.78" cy="95.41" rx="0.75" ry="1.29" fill="#76381a" opacity="0.79"/>
<ellipse cx="282.25" cy="163.26" rx="0.48" ry="1.02" fill="#76381a" opacity="0.8"/>
<ellipse cx="296.39" cy="50.04" rx="1.12" ry="3.31" fill="#76381a" opacity="0.5"/>
<ellipse cx="296.85" cy="38.3" rx="0.85" ry="2.02" fill="#76381a" opacity="0.66"/>
<ellipse cx="294.64" cy="124.76" rx="0.65" ry="1.97" fill="#76381a" opacity="0.87"/>
<ellipse cx="281.56" cy="161.24" rx="0.63" ry="1.96" fill="#76381a" opacity="0.67"/>
<ellipse cx="286.76" cy="167.84" rx="1.1" ry="2.58" fill="#76381a" opacity="0.78"/>
<ellipse cx="294.74" cy="66.95" rx="0.6" ry="1.42" fill="#76381a" opacity="0.89"/>
<ellipse cx="292.16" cy="131.69" rx="0.7" ry="2.37" fill="#76381a" opacity="0.8"/>
<ellipse cx="296.05" cy="70.43" rx="0.79" ry="1.24" fill="#76381a" opacity="0.59"/>
<ellipse cx="284.45" cy="169.16" rx="0.67" ry="2" fill="#76381a" opacity="0.86"/>
<ellipse cx="290.47" cy="154.37" rx="0.73" ry="1.97" fill="#76381a" opacity="0.65"/>
<ellipse cx="285.81" cy="112.86" rx="0.56" ry="1.53" fill="#76381a" opacity="0.72"/>
<ellipse cx="288.36" cy="177.49" rx="1.08" ry="3.04" fill="#76381a" opacity="0.89"/>
<ellipse cx="296.64" cy="40.66" rx="0.55" ry="1.12" fill="#76381a" opacity="0.79"/>
<ellipse cx="288.62" cy="185.84" rx="0.8" ry="2.25" fill="#76381a" opacity="0.78"/>
<ellipse cx="284.92" cy="146.53" rx="0.43" ry="0.69" fill="#76381a" opacity="0.78"/>
<ellipse cx="297.71" cy="59.95" rx="0.89" ry="2.45" fill="#76381a" opacity="0.74"/>
<ellipse cx="289.82" cy="138.29" rx="0.58" ry="0.97" fill="#76381a" opacity="0.51"/>
<ellipse cx="295.18" cy="84.51" rx="1.11" ry="3.13" fill="#76381a" opacity="0.61"/>
<ellipse cx="290.06" cy="150.31" rx="0.6" ry="1.27" fill="#76381a" opacity="0.66"/>
<ellipse cx="290.16" cy="137.42" rx="1.09" ry="2.37" fill="#76381a" opacity="0.83"/>
<ellipse cx="291.51" cy="31.15" rx="0.71" ry="2.15" fill="#76381a" opacity="0.77"/>
<ellipse cx="294.54" cy="70.98" rx="0.66" ry="2.11" fill="#76381a" opacity="0.56"/>
<ellipse cx="290.22" cy="132.54" rx="0.63" ry="1.08" fill="#76381a" opacity="0.89"/>
<ellipse cx="292.88" cy="87.98" rx="0.42" ry="0.69" fill="#76381a" opacity="0.51"/>
<ellipse cx="287.77" cy="163.72" rx="1.11" ry="2.45" fill="#76381a" opacity="0.79"/>
<ellipse cx="290.86" cy="48.52" rx="0.48" ry="1.21" fill="#76381a" opacity="0.54"/>
<ellipse cx="290.28" cy="66.25" rx="0.49" ry="1.45" fill="#76381a" opacity="0.59"/>
<ellipse cx="295.17" cy="57.48" rx="0.92" ry="2.22" fill="#76381a" opacity="0.85"/>
<ellipse cx="300.87" cy="34.36" rx="0.42" ry="0.67" fill="#76381a" opacity="0.68"/>
<ellipse cx="297.86" cy="44.89" rx="0.96" ry="1.65" fill="#76381a" opacity="0.55"/>
</g>
<g clip-path="url(#lc8)">
<polygon points="315.57,25 314.28,52.58 312.99,80.17 311.69,107.75 310.4,135.33 309.11,162.92 307.82,190.5 310.41,190.5 311.81,162.92 313.21,135.33 314.61,107.75 316.01,80.17 317.42,52.58 318.82,25" fill="#aeca2e"/>
<polygon points="318.13,25 316.75,52.58 315.37,80.17 313.99,107.75 312.62,135.33 311.24,162.92 309.86,190.5 312.46,190.5 313.94,162.92 315.43,135.33 316.91,107.75 318.4,80.17 319.89,52.58 321.37,25" fill="#b8d232"/>
<polygon points="320.68,25 319.22,52.58 317.76,80.17 316.29,107.75 314.83,135.33 313.37,162.92 311.9,190.5 314.5,190.5 316.07,162.92 317.64,135.33 319.21,107.75 320.78,80.17 322.36,52.58 323.93,25" fill="#bed636"/>
<polygon points="323.24,25 321.69,52.58 320.14,80.17 318.59,107.75 317.05,135.33 315.5,162.92 313.95,190.5 316.55,190.5 318.2,162.92 319.86,135.33 321.51,107.75 323.17,80.17 324.83,52.58 326.48,25" fill="#b6d032"/>
<polygon points="325.79,25 324.16,52.58 322.53,80.17 320.89,107.75 319.26,135.33 317.63,162.92 315.99,190.5 318.59,190.5 320.33,162.92 322.07,135.33 323.81,107.75 325.56,80.17 327.3,52.58 329.04,25" fill="#aac82e"/>
<polygon points="328.35,25 326.63,52.58 324.91,80.17 323.19,107.75 321.47,135.33 319.76,162.92 318.04,190.5 320.63,190.5 322.46,162.92 324.29,135.33 326.11,107.75 327.94,80.17 329.77,52.58 331.59,25" fill="#9cbe2a"/>
<polygon points="330.9,25 329.1,52.58 327.3,80.17 325.49,107.75 323.69,135.33 321.89,162.92 320.08,190.5 322.68,190.5 324.59,162.92 326.5,135.33 328.41,107.75 330.33,80.17 332.24,52.58 334.15,25" fill="#90b428"/>
<polygon points="333.46,25 331.57,52.58 329.68,80.17 327.79,107.75 325.9,135.33 324.02,162.92 322.13,190.5 324.72,190.5 326.72,162.92 328.72,135.33 330.71,107.75 332.71,80.17 334.71,52.58 336.7,25" fill="#86ac26"/>
<polygon points="336.01,25 334.04,52.58 332.07,80.17 330.09,107.75 328.12,135.33 326.15,162.92 324.17,190.5 326.77,190.5 328.85,162.92 330.93,135.33 333.01,107.75 335.1,80.17 337.18,52.58 339.26,25" fill="#8eb028"/>
<path d="M320.4 25L318.95 52.58L317.49 80.17L316.04 107.75L314.59 135.33L313.13 162.92L311.68 190.5" fill="none" stroke="#3c6c10" stroke-width="0.7" opacity="0.3"/>
<path d="M325.69 25L324.06 52.58L322.43 80.17L320.8 107.75L319.17 135.33L317.54 162.92L315.91 190.5" fill="none" stroke="#3c6c10" stroke-width="0.8" opacity="0.35"/>
<path d="M329.6 25L327.84 52.58L326.08 80.17L324.32 107.75L322.56 135.33L320.8 162.92L319.04 190.5" fill="none" stroke="#3c6c10" stroke-width="0.7" opacity="0.3"/>
<path d="M333.74 25L331.84 52.58L329.94 80.17L328.05 107.75L326.15 135.33L324.25 162.92L322.35 190.5" fill="none" stroke="#3c6c10" stroke-width="0.8" opacity="0.3"/>
<path d="M323.16 25L321.61 52.58L320.07 80.17L318.52 107.75L316.98 135.33L315.43 162.92L313.89 190.5" fill="none" stroke="#d4e860" stroke-width="0.7" opacity="0.3"/>
<path d="M331.44 25L329.62 52.58L327.8 80.17L325.98 107.75L324.15 135.33L322.33 162.92L320.51 190.5" fill="none" stroke="#d4e860" stroke-width="0.7" opacity="0.25"/>
<ellipse cx="325.57" cy="104.44" rx="0.62" ry="1.02" fill="#76381a" opacity="0.64"/>
<ellipse cx="323.54" cy="102.77" rx="0.35" ry="0.67" fill="#76381a" opacity="0.8"/>
<ellipse cx="329.75" cy="117.9" rx="0.71" ry="1.24" fill="#76381a" opacity="0.88"/>
<ellipse cx="326.54" cy="111.76" rx="0.65" ry="2.02" fill="#76381a" opacity="0.58"/>
<ellipse cx="331.19" cy="40.42" rx="0.97" ry="1.63" fill="#76381a" opacity="0.68"/>
<ellipse cx="326.23" cy="78.33" rx="0.93" ry="2.06" fill="#76381a" opacity="0.55"/>
<ellipse cx="320.16" cy="185.95" rx="0.93" ry="2.31" fill="#76381a" opacity="0.51"/>
<ellipse cx="323.21" cy="102.95" rx="0.42" ry="1.04" fill="#76381a" opacity="0.74"/>
<ellipse cx="323.76" cy="132.16" rx="1.02" ry="3.34" fill="#76381a" opacity="0.8"/>
<ellipse cx="322.14" cy="165.46" rx="0.68" ry="1.79" fill="#76381a" opacity="0.86"/>
<ellipse cx="328.92" cy="40.24" rx="0.57" ry="1.33" fill="#76381a" opacity="0.56"/>
<ellipse cx="326.87" cy="57.93" rx="0.75" ry="1.71" fill="#76381a" opacity="0.77"/>
<ellipse cx="321.8" cy="29.04" rx="0.54" ry="1.33" fill="#76381a" opacity="0.88"/>
<ellipse cx="324.49" cy="106.47" rx="0.41" ry="1.27" fill="#76381a" opacity="0.58"/>
<ellipse cx="320.43" cy="188.43" rx="0.73" ry="1.68" fill="#76381a" opacity="0.64"/>
<ellipse cx="327.15" cy="134.99" rx="0.76" ry="1.41" fill="#76381a" opacity="0.83"/>
<ellipse cx="330.3" cy="27.03" rx="0.87" ry="2.5" fill="#76381a" opacity="0.56"/>
<ellipse cx="329.67" cy="65.83" rx="1.11" ry="2.01" fill="#76381a" opacity="0.55"/>
<ellipse cx="325.32" cy="111.34" rx="0.68" ry="1.26" fill="#76381a" opacity="0.73"/>
<ellipse cx="325.3" cy="100.07" rx="1.07" ry="2.94" fill="#76381a" opacity="0.84"/>
<ellipse cx="321.7" cy="181.54" rx="0.58" ry="1.86" fill="#76381a" opacity="0.54"/>
<ellipse cx="329.58" cy="29.83" rx="0.72" ry="2.38" fill="#76381a" opacity="0.85"/>
<ellipse cx="327.65" cy="94.84" rx="0.93" ry="2.31" fill="#76381a" opacity="0.55"/>
<ellipse cx="326.4" cy="66.36" rx="0.69" ry="2.2" fill="#76381a" opacity="0.88"/>
<ellipse cx="325.93" cy="58.12" rx="1.07" ry="2.78" fill="#76381a" opacity="0.57"/>
<ellipse cx="323.25" cy="138.77" rx="0.85" ry="2.38" fill="#76381a" opacity="0.53"/>
<ellipse cx="319.39" cy="146.72" rx="0.63" ry="1.89" fill="#76381a" opacity="0.5"/>
<ellipse cx="326.24" cy="103.77" rx="0.62" ry="1.15" fill="#76381a" opacity="0.88"/>
<ellipse cx="323.54" cy="153.89" rx="0.8" ry="2.64" fill="#76381a" opacity="0.58"/>
<ellipse cx="330.41" cy="93.07" rx="0.42" ry="1.22" fill="#76381a" opacity="0.64"/>
<ellipse cx="314.24" cy="134.13" rx="0.42" ry="0.81" fill="#76381a" opacity="0.61"/>
<ellipse cx="328.53" cy="32.76" rx="0.59" ry="1.55" fill="#76381a" opacity="0.88"/>
<ellipse cx="325.23" cy="120.18" rx="0.96" ry="2.25" fill="#76381a" opacity="0.57"/>
<ellipse cx="324.93" cy="104.8" rx="0.76" ry="2.53" fill="#76381a" opacity="0.81"/>
<ellipse cx="321.16" cy="161.94" rx="0.64" ry="2.13" fill="#76381a" opacity="0.58"/>
<ellipse cx="321.58" cy="150.74" rx="0.7" ry="2.13" fill="#76381a" opacity="0.74"/>
<ellipse cx="320.26" cy="164.22" rx="0.4" ry="0.63" fill="#76381a" opacity="0.71"/>
<ellipse cx="322.91" cy="144.19" rx="0.65" ry="1.83" fill="#76381a" opacity="0.5"/>
<ellipse cx="328.05" cy="64.14" rx="0.96" ry="3.23" fill="#76381a" opacity="0.51"/>
<ellipse cx="335.12" cy="45.45" rx="0.38" ry="0.82" fill="#76381a" opacity="0.71"/>
<ellipse cx="325.8" cy="78.71" rx="0.58" ry="0.98" fill="#76381a" opacity="0.56"/>
<ellipse cx="330.09" cy="41.76" rx="0.44" ry="1.31" fill="#76381a" opacity="0.79"/>
<ellipse cx="326.97" cy="82.18" rx="0.66" ry="2.13" fill="#76381a" opacity="0.72"/>
<ellipse cx="329.26" cy="35.28" rx="0.97" ry="1.89" fill="#76381a" opacity="0.82"/>
<ellipse cx="320.64" cy="156.52" rx="0.89" ry="1.68" fill="#76381a" opacity="0.78"/>
<ellipse cx="314.78" cy="156.85" rx="0.36" ry="0.98" fill="#76381a" opacity="0.73"/>
<ellipse cx="328.25" cy="49.32" rx="0.92" ry="1.82" fill="#76381a" opacity="0.6"/>
<ellipse cx="325.58" cy="95.39" rx="0.97" ry="1.55" fill="#76381a" opacity="0.79"/>
</g>
<text x="20.9" y="205.6" font-size="15.85">Nihonmasari</text>
<text x="149.4" y="205.6" font-size="15.85" font-style="italic">cpm2</text>
<text x="255" y="205.6" font-size="15.85" font-style="italic">hebiba</text>
<rect x="21" y="210.1" width="298.8" height="1.8" fill="#000"/>
<text x="133.2" y="230.3" font-size="15.85">Gy11-Avrpia</text>
<text x="361.7" y="22.1" font-size="38" font-weight="bold">a</text>
<line x1="385.7" y1="238.5" x2="385.7" y2="481.75" stroke="#000" stroke-width="1.1"/>
<line x1="0" y1="481.2" x2="386.25" y2="481.2" stroke="#000" stroke-width="1.1"/>
<line x1="0" y1="239" x2="386.1" y2="239" stroke="#5a5a5a" stroke-width="1.6"/>
<line x1="0.85" y1="239" x2="0.85" y2="481.6" stroke="#5a5a5a" stroke-width="1.7"/>
<rect x="60.2" y="274.6" width="83.4" height="185.9" fill="#000" stroke="#000" stroke-width="1"/>
<rect x="169.1" y="278" width="82.9" height="182.5" fill="#fff" stroke="#000" stroke-width="1"/>
<rect x="278" y="311.7" width="83.5" height="148.8" fill="#c0c0c0" stroke="#000" stroke-width="1"/>
<line x1="102.2" y1="268.5" x2="102.2" y2="279.7" stroke="#000" stroke-width="1"/>
<line x1="99.9" y1="268.5" x2="104.5" y2="268.5" stroke="#000" stroke-width="1"/>
<line x1="99.9" y1="279.7" x2="104.5" y2="279.7" stroke="#000" stroke-width="1"/>
<line x1="211.1" y1="268" x2="211.1" y2="287.3" stroke="#000" stroke-width="1"/>
<line x1="208.8" y1="268" x2="213.4" y2="268" stroke="#000" stroke-width="1"/>
<line x1="208.8" y1="287.3" x2="213.4" y2="287.3" stroke="#000" stroke-width="1"/>
<line x1="320" y1="301.4" x2="320" y2="320.5" stroke="#000" stroke-width="1"/>
<line x1="317.7" y1="301.4" x2="322.3" y2="301.4" stroke="#000" stroke-width="1"/>
<line x1="317.7" y1="320.5" x2="322.3" y2="320.5" stroke="#000" stroke-width="1"/>
<line x1="46.8" y1="250.5" x2="46.8" y2="460.5" stroke="#000" stroke-width="1.1"/>
<line x1="46.8" y1="460.5" x2="374" y2="460.5" stroke="#000" stroke-width="1.1"/>
<line x1="44" y1="460.5" x2="46.8" y2="460.5" stroke="#000" stroke-width="1.1"/>
<text x="39.4" y="463.9" font-size="10.5" font-weight="bold" text-anchor="end">0</text>
<line x1="44" y1="437.17" x2="46.8" y2="437.17" stroke="#000" stroke-width="1.1"/>
<text x="39.4" y="440.57" font-size="10.5" font-weight="bold" text-anchor="end">5</text>
<line x1="44" y1="413.83" x2="46.8" y2="413.83" stroke="#000" stroke-width="1.1"/>
<text x="39.4" y="417.23" font-size="10.5" font-weight="bold" text-anchor="end">10</text>
<line x1="44" y1="390.5" x2="46.8" y2="390.5" stroke="#000" stroke-width="1.1"/>
<text x="39.4" y="393.9" font-size="10.5" font-weight="bold" text-anchor="end">15</text>
<line x1="44" y1="367.17" x2="46.8" y2="367.17" stroke="#000" stroke-width="1.1"/>
<text x="39.4" y="370.57" font-size="10.5" font-weight="bold" text-anchor="end">20</text>
<line x1="44" y1="343.83" x2="46.8" y2="343.83" stroke="#000" stroke-width="1.1"/>
<text x="39.4" y="347.23" font-size="10.5" font-weight="bold" text-anchor="end">25</text>
<line x1="44" y1="320.5" x2="46.8" y2="320.5" stroke="#000" stroke-width="1.1"/>
<text x="39.4" y="323.9" font-size="10.5" font-weight="bold" text-anchor="end">30</text>
<line x1="44" y1="297.17" x2="46.8" y2="297.17" stroke="#000" stroke-width="1.1"/>
<text x="39.4" y="300.57" font-size="10.5" font-weight="bold" text-anchor="end">35</text>
<line x1="44" y1="273.83" x2="46.8" y2="273.83" stroke="#000" stroke-width="1.1"/>
<text x="39.4" y="277.23" font-size="10.5" font-weight="bold" text-anchor="end">40</text>
<line x1="44" y1="250.5" x2="46.8" y2="250.5" stroke="#000" stroke-width="1.1"/>
<text x="39.4" y="253.9" font-size="10.5" font-weight="bold" text-anchor="end">45</text>
<line x1="46.8" y1="460.5" x2="46.8" y2="463.5" stroke="#000" stroke-width="1.1"/>
<line x1="155.9" y1="460.5" x2="155.9" y2="463.5" stroke="#000" stroke-width="1.1"/>
<line x1="265.2" y1="460.5" x2="265.2" y2="463.5" stroke="#000" stroke-width="1.1"/>
<line x1="374" y1="460.5" x2="374" y2="463.5" stroke="#000" stroke-width="1.1"/>
<text x="102" y="472.3" font-size="10.35" font-weight="bold" text-anchor="middle">Nihonmasari</text>
<text x="208.5" y="472.3" font-size="10.2" font-weight="bold" font-style="italic" text-anchor="middle" letter-spacing="0.3">cpm2</text>
<text x="321" y="472.3" font-size="10.2" font-weight="bold" font-style="italic" text-anchor="middle">hebiba</text>
<text x="211.6" y="262.8" font-size="9.5" text-anchor="middle">NS</text>
<text x="320" y="297.5" font-size="9.5" text-anchor="middle">NS</text>
<text transform="translate(22.9 355.5) rotate(-90)" font-size="10.2" text-anchor="middle" xml:space="preserve">Lesion number/ leaf  area</text>
<text x="360.8" y="280" font-size="37.8" font-weight="bold">b</text>
<line x1="385.7" y1="484.2" x2="385.7" y2="728.85" stroke="#000" stroke-width="1.1"/>
<line x1="0" y1="728.3" x2="386.25" y2="728.3" stroke="#000" stroke-width="1.1"/>
<line x1="0" y1="484.7" x2="386.1" y2="484.7" stroke="#5a5a5a" stroke-width="1.6"/>
<line x1="0.85" y1="484.7" x2="0.85" y2="728.7" stroke="#5a5a5a" stroke-width="1.7"/>
<rect x="69.5" y="616.7" width="81.4" height="90.9" fill="#000" stroke="#000" stroke-width="1"/>
<rect x="176" y="541" width="80.4" height="166.6" fill="#fff" stroke="#000" stroke-width="1"/>
<rect x="281.1" y="533.8" width="80.9" height="173.8" fill="#c0c0c0" stroke="#000" stroke-width="1"/>
<line x1="110.2" y1="614.3" x2="110.2" y2="618" stroke="#000" stroke-width="1"/>
<line x1="107.9" y1="614.3" x2="112.5" y2="614.3" stroke="#000" stroke-width="1"/>
<line x1="107.9" y1="618" x2="112.5" y2="618" stroke="#000" stroke-width="1"/>
<line x1="215.7" y1="524.6" x2="215.7" y2="557" stroke="#000" stroke-width="1"/>
<line x1="213.4" y1="524.6" x2="218" y2="524.6" stroke="#000" stroke-width="1"/>
<line x1="213.4" y1="557" x2="218" y2="557" stroke="#000" stroke-width="1"/>
<line x1="321.5" y1="519.2" x2="321.5" y2="547.5" stroke="#000" stroke-width="1"/>
<line x1="319.2" y1="519.2" x2="323.8" y2="519.2" stroke="#000" stroke-width="1"/>
<line x1="319.2" y1="547.5" x2="323.8" y2="547.5" stroke="#000" stroke-width="1"/>
<line x1="57.1" y1="496.5" x2="57.1" y2="707.6" stroke="#000" stroke-width="1.1"/>
<line x1="57.1" y1="707.6" x2="374" y2="707.6" stroke="#000" stroke-width="1.1"/>
<line x1="54.3" y1="707.6" x2="57.1" y2="707.6" stroke="#000" stroke-width="1.1"/>
<text x="48.3" y="710.9" font-size="10" font-weight="bold" text-anchor="end">0.00</text>
<line x1="54.3" y1="684.14" x2="57.1" y2="684.14" stroke="#000" stroke-width="1.1"/>
<text x="48.3" y="687.44" font-size="10" font-weight="bold" text-anchor="end">0.01</text>
<line x1="54.3" y1="660.69" x2="57.1" y2="660.69" stroke="#000" stroke-width="1.1"/>
<text x="48.3" y="663.99" font-size="10" font-weight="bold" text-anchor="end">0.01</text>
<line x1="54.3" y1="637.23" x2="57.1" y2="637.23" stroke="#000" stroke-width="1.1"/>
<text x="48.3" y="640.53" font-size="10" font-weight="bold" text-anchor="end">0.02</text>
<line x1="54.3" y1="613.78" x2="57.1" y2="613.78" stroke="#000" stroke-width="1.1"/>
<text x="48.3" y="617.08" font-size="10" font-weight="bold" text-anchor="end">0.02</text>
<line x1="54.3" y1="590.32" x2="57.1" y2="590.32" stroke="#000" stroke-width="1.1"/>
<text x="48.3" y="593.62" font-size="10" font-weight="bold" text-anchor="end">0.03</text>
<line x1="54.3" y1="566.87" x2="57.1" y2="566.87" stroke="#000" stroke-width="1.1"/>
<text x="48.3" y="570.17" font-size="10" font-weight="bold" text-anchor="end">0.03</text>
<line x1="54.3" y1="543.41" x2="57.1" y2="543.41" stroke="#000" stroke-width="1.1"/>
<text x="48.3" y="546.71" font-size="10" font-weight="bold" text-anchor="end">0.04</text>
<line x1="54.3" y1="519.96" x2="57.1" y2="519.96" stroke="#000" stroke-width="1.1"/>
<text x="48.3" y="523.26" font-size="10" font-weight="bold" text-anchor="end">0.04</text>
<line x1="54.3" y1="496.5" x2="57.1" y2="496.5" stroke="#000" stroke-width="1.1"/>
<text x="48.3" y="499.8" font-size="10" font-weight="bold" text-anchor="end">0.05</text>
<line x1="57.1" y1="707.6" x2="57.1" y2="710.6" stroke="#000" stroke-width="1.1"/>
<line x1="162.7" y1="707.6" x2="162.7" y2="710.6" stroke="#000" stroke-width="1.1"/>
<line x1="268.4" y1="707.6" x2="268.4" y2="710.6" stroke="#000" stroke-width="1.1"/>
<line x1="374" y1="707.6" x2="374" y2="710.6" stroke="#000" stroke-width="1.1"/>
<text x="110.3" y="719.8" font-size="10.15" font-weight="bold" text-anchor="middle">Nihonmasari</text>
<text x="215.4" y="721" font-size="10" font-weight="bold" font-style="italic" text-anchor="middle" letter-spacing="0.3">cpm2</text>
<text x="321" y="721.5" font-size="10" font-weight="bold" font-style="italic" text-anchor="middle">hebiba</text>
<text x="215.4" y="520.5" font-size="11.5" text-anchor="middle" fill="#444">*</text>
<text x="320.6" y="513.6" font-size="11.5" text-anchor="middle" fill="#444">*</text>
<text transform="translate(24.7 602.4) rotate(-90)" font-size="12.08" text-anchor="middle" xml:space="preserve">Lesion area/ leaf  area (arbitrary unit)</text>
<text x="361.8" y="521.8" font-size="38.5" font-weight="bold">c</text>
<line x1="480.5" y1="177.4" x2="764.9" y2="177.4" stroke="#dcdcdc" stroke-width="1"/>
<text x="466.6" y="182.5" font-size="15.8" text-anchor="end">0</text>
<line x1="480.5" y1="156.25" x2="764.9" y2="156.25" stroke="#dcdcdc" stroke-width="1"/>
<text x="466.6" y="161.35" font-size="15.8" text-anchor="end">20</text>
<line x1="480.5" y1="135.1" x2="764.9" y2="135.1" stroke="#dcdcdc" stroke-width="1"/>
<text x="466.6" y="140.2" font-size="15.8" text-anchor="end">40</text>
<line x1="480.5" y1="113.95" x2="764.9" y2="113.95" stroke="#dcdcdc" stroke-width="1"/>
<text x="466.6" y="119.05" font-size="15.8" text-anchor="end">60</text>
<line x1="480.5" y1="92.8" x2="764.9" y2="92.8" stroke="#dcdcdc" stroke-width="1"/>
<text x="466.6" y="97.9" font-size="15.8" text-anchor="end">80</text>
<line x1="480.5" y1="71.65" x2="764.9" y2="71.65" stroke="#dcdcdc" stroke-width="1"/>
<text x="466.6" y="76.75" font-size="15.8" text-anchor="end">100</text>
<rect x="489.7" y="154.63" width="8.2" height="22.77" fill="#000" stroke="#000" stroke-width="0.9"/>
<line x1="493.8" y1="146.2" x2="493.8" y2="162.17" stroke="#6a6a6a" stroke-width="0.9"/>
<line x1="491.7" y1="146.2" x2="495.9" y2="146.2" stroke="#6a6a6a" stroke-width="0.9"/>
<line x1="491.7" y1="162.17" x2="495.9" y2="162.17" stroke="#6a6a6a" stroke-width="0.9"/>
<rect x="500.2" y="160.98" width="8.2" height="16.42" fill="#fff" stroke="#333" stroke-width="0.9"/>
<line x1="504.3" y1="157.31" x2="504.3" y2="163.02" stroke="#6a6a6a" stroke-width="0.9"/>
<line x1="502.2" y1="157.31" x2="506.4" y2="157.31" stroke="#6a6a6a" stroke-width="0.9"/>
<line x1="502.2" y1="163.02" x2="506.4" y2="163.02" stroke="#6a6a6a" stroke-width="0.9"/>
<rect x="510.7" y="145.12" width="8.2" height="32.28" fill="#c0c0c0" stroke="#333" stroke-width="0.9"/>
<line x1="514.8" y1="136.37" x2="514.8" y2="154.13" stroke="#6a6a6a" stroke-width="0.9"/>
<line x1="512.7" y1="136.37" x2="516.9" y2="136.37" stroke="#6a6a6a" stroke-width="0.9"/>
<line x1="512.7" y1="154.13" x2="516.9" y2="154.13" stroke="#6a6a6a" stroke-width="0.9"/>
<text x="504.2" y="201.9" font-size="16" text-anchor="middle">SGA</text>
<rect x="537.1" y="104.93" width="8.2" height="72.47" fill="#000" stroke="#000" stroke-width="0.9"/>
<line x1="541.2" y1="98.62" x2="541.2" y2="110.78" stroke="#6a6a6a" stroke-width="0.9"/>
<line x1="539.1" y1="98.62" x2="543.3" y2="98.62" stroke="#6a6a6a" stroke-width="0.9"/>
<line x1="539.1" y1="110.78" x2="543.3" y2="110.78" stroke="#6a6a6a" stroke-width="0.9"/>
<rect x="547.6" y="97.85" width="8.2" height="79.55" fill="#fff" stroke="#333" stroke-width="0.9"/>
<line x1="551.7" y1="93.12" x2="551.7" y2="101.26" stroke="#6a6a6a" stroke-width="0.9"/>
<line x1="549.6" y1="93.12" x2="553.8" y2="93.12" stroke="#6a6a6a" stroke-width="0.9"/>
<line x1="549.6" y1="101.26" x2="553.8" y2="101.26" stroke="#6a6a6a" stroke-width="0.9"/>
<rect x="558.1" y="112.76" width="8.2" height="64.64" fill="#c0c0c0" stroke="#333" stroke-width="0.9"/>
<line x1="562.2" y1="99.14" x2="562.2" y2="125.58" stroke="#6a6a6a" stroke-width="0.9"/>
<line x1="560.1" y1="99.14" x2="564.3" y2="99.14" stroke="#6a6a6a" stroke-width="0.9"/>
<line x1="560.1" y1="125.58" x2="564.3" y2="125.58" stroke="#6a6a6a" stroke-width="0.9"/>
<text x="551.6" y="201.9" font-size="16" text-anchor="middle">IHO</text>
<rect x="584.5" y="171.77" width="8.2" height="5.63" fill="#000" stroke="#000" stroke-width="0.9"/>
<line x1="588.6" y1="168.62" x2="588.6" y2="174.54" stroke="#6a6a6a" stroke-width="0.9"/>
<line x1="586.5" y1="168.62" x2="590.7" y2="168.62" stroke="#6a6a6a" stroke-width="0.9"/>
<line x1="586.5" y1="174.54" x2="590.7" y2="174.54" stroke="#6a6a6a" stroke-width="0.9"/>
<rect x="595" y="170.5" width="8.2" height="6.9" fill="#fff" stroke="#333" stroke-width="0.9"/>
<line x1="599.1" y1="169.36" x2="599.1" y2="171.27" stroke="#6a6a6a" stroke-width="0.9"/>
<line x1="597" y1="169.36" x2="601.2" y2="169.36" stroke="#6a6a6a" stroke-width="0.9"/>
<line x1="597" y1="171.27" x2="601.2" y2="171.27" stroke="#6a6a6a" stroke-width="0.9"/>
<rect x="605.5" y="172.3" width="8.2" height="5.1" fill="#c0c0c0" stroke="#333" stroke-width="0.9"/>
<line x1="609.6" y1="167.35" x2="609.6" y2="175.81" stroke="#6a6a6a" stroke-width="0.9"/>
<line x1="607.5" y1="167.35" x2="611.7" y2="167.35" stroke="#6a6a6a" stroke-width="0.9"/>
<line x1="607.5" y1="175.81" x2="611.7" y2="175.81" stroke="#6a6a6a" stroke-width="0.9"/>
<text x="599" y="201.9" font-size="16" text-anchor="middle">IHM</text>
<text x="646.4" y="201.9" font-size="16" text-anchor="middle">SGA</text>
<text x="693.8" y="201.9" font-size="16" text-anchor="middle">IHO</text>
<text x="741.2" y="201.9" font-size="16" text-anchor="middle">IHM</text>
<rect x="484.8" y="204.5" width="129.8" height="3.8" fill="#fff" stroke="#000" stroke-width="1"/>
<rect x="629" y="203" width="130.2" height="4.5" fill="#000"/>
<text x="550.6" y="223.2" font-size="15.6" font-weight="bold" text-anchor="middle">without HR</text>
<text x="692.5" y="223.5" font-size="15.6" font-weight="bold" text-anchor="middle">with HR</text>
<text x="624" y="236.8" font-size="18.2" font-weight="bold" text-anchor="middle">Stage</text>
<text transform="translate(440.2 133.8) rotate(-90)" font-size="18.2" font-weight="bold" text-anchor="middle">Frequency [%]</text>
<text x="750.8" y="25.8" font-size="38.5" font-weight="bold">d</text>
<rect x="728.9" y="36.8" width="48.1" height="25.7" fill="#000"/>
<text x="737.5" y="54.7" font-size="14.1" fill="#fff">1 dpi</text>
<rect x="654.6" y="80.4" width="6.2" height="6.2" fill="#000" stroke="#000" stroke-width="0.8"/>
<rect x="654.6" y="100.7" width="6.2" height="6.2" fill="#fff" stroke="#222" stroke-width="0.8"/>
<rect x="654.6" y="121.7" width="6.2" height="6.2" fill="#c0c0c0" stroke="#222" stroke-width="0.8"/>
<text x="663.3" y="87.3" font-size="12.4" font-weight="bold">WT (Nihonmasari）</text>
<text x="663.5" y="107.8" font-size="12.2" font-weight="bold" font-style="italic">cpm2</text>
<text x="663.5" y="128.6" font-size="12.2" font-weight="bold" font-style="italic">hebiba</text>
<line x1="482.5" y1="430.4" x2="767" y2="430.4" stroke="#dcdcdc" stroke-width="1"/>
<text x="468.6" y="435.5" font-size="15.8" text-anchor="end">0</text>
<line x1="482.5" y1="409.25" x2="767" y2="409.25" stroke="#dcdcdc" stroke-width="1"/>
<text x="468.6" y="414.35" font-size="15.8" text-anchor="end">20</text>
<line x1="482.5" y1="388.1" x2="767" y2="388.1" stroke="#dcdcdc" stroke-width="1"/>
<text x="468.6" y="393.2" font-size="15.8" text-anchor="end">40</text>
<line x1="482.5" y1="366.95" x2="767" y2="366.95" stroke="#dcdcdc" stroke-width="1"/>
<text x="468.6" y="372.05" font-size="15.8" text-anchor="end">60</text>
<line x1="482.5" y1="345.8" x2="767" y2="345.8" stroke="#dcdcdc" stroke-width="1"/>
<text x="468.6" y="350.9" font-size="15.8" text-anchor="end">80</text>
<line x1="482.5" y1="324.65" x2="767" y2="324.65" stroke="#dcdcdc" stroke-width="1"/>
<text x="468.6" y="329.75" font-size="15.8" text-anchor="end">100</text>
<rect x="491.71" y="426.46" width="8.2" height="3.94" fill="#000" stroke="#000" stroke-width="0.9"/>
<line x1="495.81" y1="422.79" x2="495.81" y2="428.81" stroke="#6a6a6a" stroke-width="0.9"/>
<line x1="493.71" y1="422.79" x2="497.91" y2="422.79" stroke="#6a6a6a" stroke-width="0.9"/>
<line x1="493.71" y1="428.81" x2="497.91" y2="428.81" stroke="#6a6a6a" stroke-width="0.9"/>
<rect x="502.21" y="421.91" width="8.2" height="8.49" fill="#fff" stroke="#333" stroke-width="0.9"/>
<line x1="506.31" y1="418.24" x2="506.31" y2="425.11" stroke="#6a6a6a" stroke-width="0.9"/>
<line x1="504.21" y1="418.24" x2="508.41" y2="418.24" stroke="#6a6a6a" stroke-width="0.9"/>
<line x1="504.21" y1="425.11" x2="508.41" y2="425.11" stroke="#6a6a6a" stroke-width="0.9"/>
<rect x="512.71" y="423.71" width="8.2" height="6.69" fill="#c0c0c0" stroke="#333" stroke-width="0.9"/>
<line x1="516.81" y1="419.3" x2="516.81" y2="427.76" stroke="#6a6a6a" stroke-width="0.9"/>
<line x1="514.71" y1="419.3" x2="518.91" y2="419.3" stroke="#6a6a6a" stroke-width="0.9"/>
<line x1="514.71" y1="427.76" x2="518.91" y2="427.76" stroke="#6a6a6a" stroke-width="0.9"/>
<text x="506.21" y="454.9" font-size="16" text-anchor="middle">SGA</text>
<text x="553.62" y="454.9" font-size="16" text-anchor="middle">IHO</text>
<rect x="597.04" y="426.46" width="8.2" height="3.94" fill="#fff" stroke="#333" stroke-width="0.9"/>
<line x1="601.14" y1="422.47" x2="601.14" y2="429.13" stroke="#6a6a6a" stroke-width="0.9"/>
<line x1="599.04" y1="422.47" x2="603.24" y2="422.47" stroke="#6a6a6a" stroke-width="0.9"/>
<line x1="599.04" y1="429.13" x2="603.24" y2="429.13" stroke="#6a6a6a" stroke-width="0.9"/>
<text x="601.04" y="454.9" font-size="16" text-anchor="middle">IHM</text>
<rect x="633.96" y="385.74" width="8.2" height="44.66" fill="#000" stroke="#000" stroke-width="0.9"/>
<line x1="638.06" y1="381.23" x2="638.06" y2="389.69" stroke="#6a6a6a" stroke-width="0.9"/>
<line x1="635.96" y1="381.23" x2="640.16" y2="381.23" stroke="#6a6a6a" stroke-width="0.9"/>
<line x1="635.96" y1="389.69" x2="640.16" y2="389.69" stroke="#6a6a6a" stroke-width="0.9"/>
<rect x="644.46" y="422.65" width="8.2" height="7.75" fill="#fff" stroke="#333" stroke-width="0.9"/>
<line x1="648.56" y1="419.3" x2="648.56" y2="425.64" stroke="#6a6a6a" stroke-width="0.9"/>
<line x1="646.46" y1="419.3" x2="650.66" y2="419.3" stroke="#6a6a6a" stroke-width="0.9"/>
<line x1="646.46" y1="425.64" x2="650.66" y2="425.64" stroke="#6a6a6a" stroke-width="0.9"/>
<rect x="654.96" y="413.66" width="8.2" height="16.74" fill="#c0c0c0" stroke="#333" stroke-width="0.9"/>
<line x1="659.06" y1="409.25" x2="659.06" y2="417.18" stroke="#6a6a6a" stroke-width="0.9"/>
<line x1="656.96" y1="409.25" x2="661.16" y2="409.25" stroke="#6a6a6a" stroke-width="0.9"/>
<line x1="656.96" y1="417.18" x2="661.16" y2="417.18" stroke="#6a6a6a" stroke-width="0.9"/>
<text x="648.46" y="454.9" font-size="16" text-anchor="middle">SGA</text>
<rect x="681.38" y="399.39" width="8.2" height="31.01" fill="#000" stroke="#000" stroke-width="0.9"/>
<line x1="685.48" y1="394.44" x2="685.48" y2="403.43" stroke="#6a6a6a" stroke-width="0.9"/>
<line x1="683.38" y1="394.44" x2="687.58" y2="394.44" stroke="#6a6a6a" stroke-width="0.9"/>
<line x1="683.38" y1="403.43" x2="687.58" y2="403.43" stroke="#6a6a6a" stroke-width="0.9"/>
<rect x="691.88" y="367.66" width="8.2" height="62.74" fill="#fff" stroke="#333" stroke-width="0.9"/>
<line x1="695.98" y1="362.19" x2="695.98" y2="372.24" stroke="#6a6a6a" stroke-width="0.9"/>
<line x1="693.88" y1="362.19" x2="698.08" y2="362.19" stroke="#6a6a6a" stroke-width="0.9"/>
<line x1="693.88" y1="372.24" x2="698.08" y2="372.24" stroke="#6a6a6a" stroke-width="0.9"/>
<rect x="702.38" y="378.02" width="8.2" height="52.38" fill="#c0c0c0" stroke="#333" stroke-width="0.9"/>
<line x1="706.48" y1="374.88" x2="706.48" y2="380.17" stroke="#6a6a6a" stroke-width="0.9"/>
<line x1="704.38" y1="374.88" x2="708.58" y2="374.88" stroke="#6a6a6a" stroke-width="0.9"/>
<line x1="704.38" y1="380.17" x2="708.58" y2="380.17" stroke="#6a6a6a" stroke-width="0.9"/>
<text x="695.88" y="454.9" font-size="16" text-anchor="middle">IHO</text>
<rect x="728.79" y="409.01" width="8.2" height="21.39" fill="#000" stroke="#000" stroke-width="0.9"/>
<line x1="732.89" y1="407.66" x2="732.89" y2="409.25" stroke="#6a6a6a" stroke-width="0.9"/>
<line x1="730.79" y1="407.66" x2="734.99" y2="407.66" stroke="#6a6a6a" stroke-width="0.9"/>
<line x1="730.79" y1="409.25" x2="734.99" y2="409.25" stroke="#6a6a6a" stroke-width="0.9"/>
<rect x="739.29" y="412.08" width="8.2" height="18.32" fill="#fff" stroke="#333" stroke-width="0.9"/>
<line x1="743.39" y1="407.13" x2="743.39" y2="416.12" stroke="#6a6a6a" stroke-width="0.9"/>
<line x1="741.29" y1="407.13" x2="745.49" y2="407.13" stroke="#6a6a6a" stroke-width="0.9"/>
<line x1="741.29" y1="416.12" x2="745.49" y2="416.12" stroke="#6a6a6a" stroke-width="0.9"/>
<rect x="749.79" y="407.21" width="8.2" height="23.19" fill="#c0c0c0" stroke="#333" stroke-width="0.9"/>
<line x1="753.89" y1="403.96" x2="753.89" y2="409.25" stroke="#6a6a6a" stroke-width="0.9"/>
<line x1="751.79" y1="403.96" x2="755.99" y2="403.96" stroke="#6a6a6a" stroke-width="0.9"/>
<line x1="751.79" y1="409.25" x2="755.99" y2="409.25" stroke="#6a6a6a" stroke-width="0.9"/>
<text x="743.29" y="454.9" font-size="16" text-anchor="middle">IHM</text>
<rect x="484.8" y="457.5" width="129.8" height="3.8" fill="#fff" stroke="#000" stroke-width="1"/>
<rect x="629" y="456" width="130.2" height="4.5" fill="#000"/>
<text x="550.6" y="476.2" font-size="15.6" font-weight="bold" text-anchor="middle">without HR</text>
<text x="692.5" y="476.5" font-size="15.6" font-weight="bold" text-anchor="middle">with HR</text>
<text x="624" y="489.8" font-size="18.2" font-weight="bold" text-anchor="middle">Stage</text>
<text transform="translate(440.2 386.8) rotate(-90)" font-size="18.2" font-weight="bold" text-anchor="middle">Frequency [%]</text>
<text x="754.4" y="277" font-size="38.5" font-weight="bold">e</text>
<rect x="728.9" y="289.9" width="48.1" height="25.7" fill="#000"/>
<text x="737.5" y="307.8" font-size="14.1" fill="#fff">2 dpi</text>
<path d="M637.5 376.4 V374.2 Q637.5 373 638.7 373 H649.7 Q650.9 373 650.9 374.2 V376.4" fill="none" stroke="#000" stroke-width="1.1"/>
<path d="M637.5 363.8 V361.4 Q637.5 360.2 638.7 360.2 H657.7 Q658.9 360.2 658.9 361.4 V363.8" fill="none" stroke="#000" stroke-width="1.1"/>
<path d="M681.8 359.8 V357.2 Q681.8 356 683 356 H694.2 Q695.4 356 695.4 357.2 V359.8" fill="none" stroke="#000" stroke-width="1.1"/>
<path d="M681.8 350.1 V347.7 Q681.8 346.5 683 346.5 H706.3 Q707.5 346.5 707.5 347.7 V350.1" fill="none" stroke="#000" stroke-width="1.1"/>
<text x="644.2" y="374.7" font-size="13" text-anchor="middle" fill="#404040" letter-spacing="0.6">**</text>
<text x="648.2" y="362.2" font-size="13" text-anchor="middle" fill="#404040" letter-spacing="0.6">**</text>
<text x="688.6" y="358.7" font-size="13" text-anchor="middle" fill="#404040" letter-spacing="0.6">**</text>
<text x="696" y="348.7" font-size="13" text-anchor="middle" fill="#404040">*</text>
<line x1="480" y1="679.4" x2="765" y2="679.4" stroke="#dcdcdc" stroke-width="1"/>
<text x="466" y="684.5" font-size="15.8" text-anchor="end">0</text>
<line x1="480" y1="658.36" x2="765" y2="658.36" stroke="#dcdcdc" stroke-width="1"/>
<text x="466" y="663.46" font-size="15.8" text-anchor="end">20</text>
<line x1="480" y1="637.32" x2="765" y2="637.32" stroke="#dcdcdc" stroke-width="1"/>
<text x="466" y="642.42" font-size="15.8" text-anchor="end">40</text>
<line x1="480" y1="616.28" x2="765" y2="616.28" stroke="#dcdcdc" stroke-width="1"/>
<text x="466" y="621.38" font-size="15.8" text-anchor="end">60</text>
<line x1="480" y1="595.24" x2="765" y2="595.24" stroke="#dcdcdc" stroke-width="1"/>
<text x="466" y="600.34" font-size="15.8" text-anchor="end">80</text>
<line x1="480" y1="574.2" x2="765" y2="574.2" stroke="#dcdcdc" stroke-width="1"/>
<text x="466" y="579.3" font-size="15.8" text-anchor="end">100</text>
<rect x="489.25" y="669.06" width="8.2" height="10.34" fill="#000" stroke="#000" stroke-width="0.9"/>
<line x1="493.35" y1="662.57" x2="493.35" y2="674.67" stroke="#6a6a6a" stroke-width="0.9"/>
<line x1="491.25" y1="662.57" x2="495.45" y2="662.57" stroke="#6a6a6a" stroke-width="0.9"/>
<line x1="491.25" y1="674.67" x2="495.45" y2="674.67" stroke="#6a6a6a" stroke-width="0.9"/>
<rect x="499.75" y="651.18" width="8.2" height="28.22" fill="#fff" stroke="#333" stroke-width="0.9"/>
<line x1="503.85" y1="646.26" x2="503.85" y2="655.2" stroke="#6a6a6a" stroke-width="0.9"/>
<line x1="501.75" y1="646.26" x2="505.95" y2="646.26" stroke="#6a6a6a" stroke-width="0.9"/>
<line x1="501.75" y1="655.2" x2="505.95" y2="655.2" stroke="#6a6a6a" stroke-width="0.9"/>
<rect x="510.25" y="667.07" width="8.2" height="12.33" fill="#c0c0c0" stroke="#333" stroke-width="0.9"/>
<line x1="514.35" y1="665.72" x2="514.35" y2="667.3" stroke="#6a6a6a" stroke-width="0.9"/>
<line x1="512.25" y1="665.72" x2="516.45" y2="665.72" stroke="#6a6a6a" stroke-width="0.9"/>
<line x1="512.25" y1="667.3" x2="516.45" y2="667.3" stroke="#6a6a6a" stroke-width="0.9"/>
<text x="503.75" y="703.9" font-size="16" text-anchor="middle">SGA</text>
<text x="551.25" y="703.9" font-size="16" text-anchor="middle">IHO</text>
<text x="598.75" y="703.9" font-size="16" text-anchor="middle">IHM</text>
<rect x="631.75" y="641.61" width="8.2" height="37.79" fill="#000" stroke="#000" stroke-width="0.9"/>
<line x1="635.85" y1="632.06" x2="635.85" y2="649.94" stroke="#6a6a6a" stroke-width="0.9"/>
<line x1="633.75" y1="632.06" x2="637.95" y2="632.06" stroke="#6a6a6a" stroke-width="0.9"/>
<line x1="633.75" y1="649.94" x2="637.95" y2="649.94" stroke="#6a6a6a" stroke-width="0.9"/>
<rect x="642.25" y="668.33" width="8.2" height="11.07" fill="#fff" stroke="#333" stroke-width="0.9"/>
<line x1="646.35" y1="661.52" x2="646.35" y2="673.61" stroke="#6a6a6a" stroke-width="0.9"/>
<line x1="644.25" y1="661.52" x2="648.45" y2="661.52" stroke="#6a6a6a" stroke-width="0.9"/>
<line x1="644.25" y1="673.61" x2="648.45" y2="673.61" stroke="#6a6a6a" stroke-width="0.9"/>
<rect x="652.75" y="658.86" width="8.2" height="20.54" fill="#c0c0c0" stroke="#333" stroke-width="0.9"/>
<line x1="656.85" y1="657.62" x2="656.85" y2="659.1" stroke="#6a6a6a" stroke-width="0.9"/>
<line x1="654.75" y1="657.62" x2="658.95" y2="657.62" stroke="#6a6a6a" stroke-width="0.9"/>
<line x1="654.75" y1="659.1" x2="658.95" y2="659.1" stroke="#6a6a6a" stroke-width="0.9"/>
<text x="646.25" y="703.9" font-size="16" text-anchor="middle">SGA</text>
<rect x="679.25" y="653.92" width="8.2" height="25.48" fill="#000" stroke="#000" stroke-width="0.9"/>
<line x1="683.35" y1="647.31" x2="683.35" y2="659.41" stroke="#6a6a6a" stroke-width="0.9"/>
<line x1="681.25" y1="647.31" x2="685.45" y2="647.31" stroke="#6a6a6a" stroke-width="0.9"/>
<line x1="681.25" y1="659.41" x2="685.45" y2="659.41" stroke="#6a6a6a" stroke-width="0.9"/>
<rect x="689.75" y="675.48" width="8.2" height="3.92" fill="#fff" stroke="#333" stroke-width="0.9"/>
<line x1="693.85" y1="672.56" x2="693.85" y2="677.3" stroke="#6a6a6a" stroke-width="0.9"/>
<line x1="691.75" y1="672.56" x2="695.95" y2="672.56" stroke="#6a6a6a" stroke-width="0.9"/>
<line x1="691.75" y1="677.3" x2="695.95" y2="677.3" stroke="#6a6a6a" stroke-width="0.9"/>
<rect x="700.25" y="676.32" width="8.2" height="3.08" fill="#c0c0c0" stroke="#333" stroke-width="0.9"/>
<line x1="704.35" y1="673.61" x2="704.35" y2="677.82" stroke="#6a6a6a" stroke-width="0.9"/>
<line x1="702.25" y1="673.61" x2="706.45" y2="673.61" stroke="#6a6a6a" stroke-width="0.9"/>
<line x1="702.25" y1="677.82" x2="706.45" y2="677.82" stroke="#6a6a6a" stroke-width="0.9"/>
<text x="693.75" y="703.9" font-size="16" text-anchor="middle">IHO</text>
<rect x="726.75" y="660.12" width="8.2" height="19.28" fill="#000" stroke="#000" stroke-width="0.9"/>
<line x1="730.85" y1="654.68" x2="730.85" y2="664.15" stroke="#6a6a6a" stroke-width="0.9"/>
<line x1="728.75" y1="654.68" x2="732.95" y2="654.68" stroke="#6a6a6a" stroke-width="0.9"/>
<line x1="728.75" y1="664.15" x2="732.95" y2="664.15" stroke="#6a6a6a" stroke-width="0.9"/>
<rect x="737.25" y="629.72" width="8.2" height="49.68" fill="#fff" stroke="#333" stroke-width="0.9"/>
<line x1="741.35" y1="623.64" x2="741.35" y2="634.69" stroke="#6a6a6a" stroke-width="0.9"/>
<line x1="739.25" y1="623.64" x2="743.45" y2="623.64" stroke="#6a6a6a" stroke-width="0.9"/>
<line x1="739.25" y1="634.69" x2="743.45" y2="634.69" stroke="#6a6a6a" stroke-width="0.9"/>
<rect x="747.75" y="621.51" width="8.2" height="57.89" fill="#c0c0c0" stroke="#333" stroke-width="0.9"/>
<line x1="751.85" y1="615.23" x2="751.85" y2="626.8" stroke="#6a6a6a" stroke-width="0.9"/>
<line x1="749.75" y1="615.23" x2="753.95" y2="615.23" stroke="#6a6a6a" stroke-width="0.9"/>
<line x1="749.75" y1="626.8" x2="753.95" y2="626.8" stroke="#6a6a6a" stroke-width="0.9"/>
<text x="741.25" y="703.9" font-size="16" text-anchor="middle">IHM</text>
<rect x="482" y="706.5" width="129.8" height="3.8" fill="#fff" stroke="#000" stroke-width="1"/>
<rect x="626.2" y="705" width="130.2" height="4.5" fill="#000"/>
<text x="547.8" y="725.2" font-size="15.6" font-weight="bold" text-anchor="middle">without HR</text>
<text x="689.7" y="725.5" font-size="15.6" font-weight="bold" text-anchor="middle">with HR</text>
<text x="621.2" y="738.8" font-size="18.2" font-weight="bold" text-anchor="middle">Stage</text>
<text transform="translate(438.6 635.8) rotate(-90)" font-size="18.2" font-weight="bold" text-anchor="middle">Frequency [%]</text>
<text x="757" y="523.5" font-size="38.5" font-weight="bold">f</text>
<rect x="726.3" y="539.4" width="48.1" height="25.6" fill="#000"/>
<text x="734.9" y="557.3" font-size="14.1" fill="#fff">3 dpi</text>
<path d="M635 632.3 V630.2 Q635 629 636.2 629 H645.3 Q646.5 629 646.5 630.2 V632.3" fill="none" stroke="#000" stroke-width="1.1"/>
<path d="M635 624 V621.9 Q635 620.7 636.2 620.7 H656.4 Q657.6 620.7 657.6 621.9 V624" fill="none" stroke="#000" stroke-width="1.1"/>
<path d="M682 645.9 V643.8 Q682 642.6 683.2 642.6 H692.1 Q693.3 642.6 693.3 643.8 V645.9" fill="none" stroke="#000" stroke-width="1.1"/>
<path d="M682 636.5 V634.2 Q682 633 683.2 633 H703.2 Q704.4 633 704.4 634.2 V636.5" fill="none" stroke="#000" stroke-width="1.1"/>
<path d="M727.6 620.7 V618.5 Q727.6 617.3 728.8 617.3 H739.2 Q740.4 617.3 740.4 618.5 V620.7" fill="none" stroke="#000" stroke-width="1.1"/>
<path d="M727.6 607.4 V605.2 Q727.6 604 728.8 604 H750.3 Q751.5 604 751.5 605.2 V607.4" fill="none" stroke="#000" stroke-width="1.1"/>
<text x="640.8" y="630.7" font-size="13" text-anchor="middle" fill="#404040">*</text>
<text x="646" y="622.2" font-size="13" text-anchor="middle" fill="#404040">*</text>
<text x="688.2" y="644.2" font-size="13" text-anchor="middle" fill="#404040">*</text>
<text x="694.1" y="634.2" font-size="13" text-anchor="middle" fill="#404040">*</text>
<text x="733.5" y="616.7" font-size="13" text-anchor="middle" fill="#404040">*</text>
<text x="738.6" y="612.2" font-size="13" text-anchor="middle" fill="#404040">*</text>
<text x="738.6" y="597.4" font-size="13" text-anchor="middle" fill="#404040">*</text>
</svg></body></html>
